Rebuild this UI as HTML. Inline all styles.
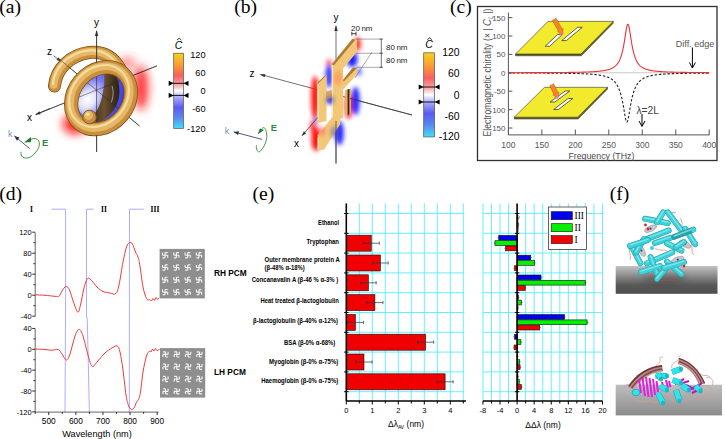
<!DOCTYPE html>
<html><head><meta charset="utf-8"><style>html,body{margin:0;padding:0;background:#fff;width:725px;height:439px;overflow:hidden}svg{display:block}</style></head>
<body><svg width="725" height="439" viewBox="0 0 725 439">
<rect width="725" height="439" fill="#fff"/>
<defs>
<filter id="blur3" x="-50%" y="-50%" width="200%" height="200%"><feGaussianBlur stdDeviation="3"/></filter>
<filter id="blur2" x="-50%" y="-50%" width="200%" height="200%"><feGaussianBlur stdDeviation="2"/></filter>
<filter id="blur5" x="-80%" y="-80%" width="260%" height="260%"><feGaussianBlur stdDeviation="5"/></filter>
<linearGradient id="cbar" x1="0" y1="0" x2="0" y2="1">
 <stop offset="0" stop-color="#f8d020"/>
 <stop offset="0.15" stop-color="#f8a030"/>
 <stop offset="0.3" stop-color="#f86060"/>
 <stop offset="0.42" stop-color="#f8a8a8"/>
 <stop offset="0.5" stop-color="#ffffff"/>
 <stop offset="0.58" stop-color="#b0b0f8"/>
 <stop offset="0.72" stop-color="#5a5af0"/>
 <stop offset="0.86" stop-color="#5a8af0"/>
 <stop offset="1" stop-color="#40e0f8"/>
</linearGradient>
<linearGradient id="slabA" x1="0" y1="0" x2="0" y2="1">
 <stop offset="0" stop-color="#c2c2c2"/><stop offset="0.68" stop-color="#595959"/><stop offset="1" stop-color="#4e4e4e"/>
</linearGradient>
<linearGradient id="slabB" x1="0" y1="0" x2="0" y2="1">
 <stop offset="0" stop-color="#bebebe"/><stop offset="1" stop-color="#8c8c8c"/>
</linearGradient>
<linearGradient id="gold" x1="0" y1="0" x2="1" y2="1">
 <stop offset="0" stop-color="#f6dc9a"/><stop offset="0.5" stop-color="#e0b060"/><stop offset="1" stop-color="#a87830"/>
</linearGradient>
<radialGradient id="hole" cx="0.3" cy="0.35" r="0.8">
 <stop offset="0" stop-color="#ffffff"/><stop offset="0.45" stop-color="#b8b8f8"/><stop offset="1" stop-color="#4848e8"/>
</radialGradient>
</defs>
<text x="-0.80" y="12.80" font-size="19.6" text-anchor="start" fill="#000" font-weight="normal" font-family="Liberation Serif, serif" >(a)</text>
<text x="234.30" y="12.80" font-size="19.6" text-anchor="start" fill="#000" font-weight="normal" font-family="Liberation Serif, serif" >(b)</text>
<text x="450.00" y="12.80" font-size="19.6" text-anchor="start" fill="#000" font-weight="normal" font-family="Liberation Serif, serif" >(c)</text>
<text x="-0.80" y="199.60" font-size="19.6" text-anchor="start" fill="#000" font-weight="normal" font-family="Liberation Serif, serif" >(d)</text>
<text x="252.50" y="199.60" font-size="19.6" text-anchor="start" fill="#000" font-weight="normal" font-family="Liberation Serif, serif" >(e)</text>
<text x="609.80" y="199.60" font-size="19.6" text-anchor="start" fill="#000" font-weight="normal" font-family="Liberation Serif, serif" >(f)</text>
<rect x="173.70" y="53.20" width="9.80" height="75.20" fill="url(#cbar)" stroke="#555" stroke-width="0.7" />
<line x1="172.70" y1="83.30" x2="184.50" y2="83.30" stroke="#000" stroke-width="0.9" />
<polygon points="168.70,80.70 168.70,85.90 173.70,83.30" fill="#000" stroke="none" stroke-width="1" />
<polygon points="188.50,80.70 188.50,85.90 183.50,83.30" fill="#000" stroke="none" stroke-width="1" />
<line x1="172.70" y1="95.40" x2="184.50" y2="95.40" stroke="#000" stroke-width="0.9" />
<polygon points="168.70,92.80 168.70,98.00 173.70,95.40" fill="#000" stroke="none" stroke-width="1" />
<polygon points="188.50,92.80 188.50,98.00 183.50,95.40" fill="#000" stroke="none" stroke-width="1" />
<text x="178.60" y="48.60" font-size="10.5" text-anchor="middle" fill="#000" font-weight="normal" font-family="Liberation Sans, sans-serif" font-style="italic">C</text>
<path d="M177.0,40.0 L179.2,38.2 L181.4,40.0" fill="none" stroke="#000" stroke-width="0.8" />
<text x="205.50" y="57.80" font-size="9.2" text-anchor="end" fill="#000" font-weight="normal" font-family="Liberation Sans, sans-serif" >120</text>
<text x="205.50" y="76.00" font-size="9.2" text-anchor="end" fill="#000" font-weight="normal" font-family="Liberation Sans, sans-serif" >60</text>
<text x="205.50" y="94.20" font-size="9.2" text-anchor="end" fill="#000" font-weight="normal" font-family="Liberation Sans, sans-serif" >0</text>
<text x="205.50" y="112.40" font-size="9.2" text-anchor="end" fill="#000" font-weight="normal" font-family="Liberation Sans, sans-serif" >-60</text>
<text x="205.50" y="131.80" font-size="9.2" text-anchor="end" fill="#000" font-weight="normal" font-family="Liberation Sans, sans-serif" >-120</text>
<rect x="423.70" y="52.80" width="10.90" height="84.10" fill="url(#cbar)" stroke="#555" stroke-width="0.7" />
<line x1="422.70" y1="87.00" x2="435.60" y2="87.00" stroke="#000" stroke-width="0.9" />
<polygon points="418.70,84.40 418.70,89.60 423.70,87.00" fill="#000" stroke="none" stroke-width="1" />
<polygon points="439.60,84.40 439.60,89.60 434.60,87.00" fill="#000" stroke="none" stroke-width="1" />
<line x1="422.70" y1="102.00" x2="435.60" y2="102.00" stroke="#000" stroke-width="0.9" />
<polygon points="418.70,99.40 418.70,104.60 423.70,102.00" fill="#000" stroke="none" stroke-width="1" />
<polygon points="439.60,99.40 439.60,104.60 434.60,102.00" fill="#000" stroke="none" stroke-width="1" />
<text x="429.00" y="48.20" font-size="10.5" text-anchor="middle" fill="#000" font-weight="normal" font-family="Liberation Sans, sans-serif" font-style="italic">C</text>
<path d="M427.4,39.599999999999994 L429.6,37.8 L431.8,39.599999999999994" fill="none" stroke="#000" stroke-width="0.8" />
<text x="459.50" y="56.20" font-size="10.4" text-anchor="end" fill="#000" font-weight="normal" font-family="Liberation Sans, sans-serif" >120</text>
<text x="459.50" y="77.20" font-size="10.4" text-anchor="end" fill="#000" font-weight="normal" font-family="Liberation Sans, sans-serif" >60</text>
<text x="459.50" y="98.60" font-size="10.4" text-anchor="end" fill="#000" font-weight="normal" font-family="Liberation Sans, sans-serif" >0</text>
<text x="459.50" y="119.60" font-size="10.4" text-anchor="end" fill="#000" font-weight="normal" font-family="Liberation Sans, sans-serif" >-60</text>
<text x="459.50" y="140.40" font-size="10.4" text-anchor="end" fill="#000" font-weight="normal" font-family="Liberation Sans, sans-serif" >-120</text>
<defs>
<radialGradient id="holeA" cx="0.32" cy="0.28" r="0.75">
 <stop offset="0" stop-color="#ffffff"/><stop offset="0.22" stop-color="#e4e4fc"/><stop offset="0.55" stop-color="#7878f2"/><stop offset="1" stop-color="#3c3ce6"/>
</radialGradient>
<linearGradient id="innerA" x1="0" y1="0" x2="1" y2="0">
 <stop offset="0" stop-color="#3a2a1a"/><stop offset="0.5" stop-color="#6a5030"/><stop offset="1" stop-color="#2a2010"/>
</linearGradient>
</defs>
<g filter="url(#blur5)">
<ellipse cx="75" cy="124" rx="12" ry="10" fill="#ff1010" opacity="0.95"/>
<ellipse cx="141" cy="88" rx="7" ry="22" fill="#ff1a1a" opacity="0.9"/>
<ellipse cx="127" cy="63" rx="8" ry="6" fill="#ff3030" opacity="0.6"/>
</g>
<line x1="58.00" y1="58.00" x2="139.50" y2="126.00" stroke="#333" stroke-width="0.7" />
<line x1="36.00" y1="114.40" x2="157.00" y2="65.80" stroke="#333" stroke-width="0.7" />
<path d="M54.5,86 C56,69 70,55 89,52.5 C104,51 114,58 120,69" fill="none" stroke="#7a5216" stroke-width="13.1" stroke-linecap="round" fill="none"/>
<path d="M54.5,86 C56,69 70,55 89,52.5 C104,51 114,58 120,69" fill="none" stroke="#c98f3e" stroke-width="11.5" stroke-linecap="round" fill="none"/>
<path d="M54.5,86 C56,69 70,55 89,52.5 C104,51 114,58 120,69" fill="none" stroke="#e6b866" stroke-width="7.13" stroke-linecap="round" fill="none" transform="translate(-0.8,-0.9)"/>
<path d="M54.5,86 C56,69 70,55 89,52.5 C104,51 114,58 120,69" fill="none" stroke="#f8e2a8" stroke-width="2.3000000000000003" stroke-linecap="round" fill="none" opacity="0.85" transform="translate(-1.6,-1.9)"/>
<clipPath id="holeClip"><ellipse cx="101.4" cy="97.7" rx="28" ry="21" transform="rotate(-50 101.4 97.7)"/></clipPath>
<g clip-path="url(#holeClip)">
<ellipse cx="101.4" cy="97.7" rx="28" ry="21" transform="rotate(-50 101.4 97.7)" fill="url(#holeA)"/>
<path d="M104,72 C118,74 126,86 124,100 C122,112 112,122 100,124 L126,124 L132,70 Z" fill="#4a4af0" stroke="none" stroke-width="1" />
<path d="M115,74 C120,82 121,94 117,104 C113,113 107,119 99,122 L89,120 C96,114 100,106 102,97 C104,88 105,80 104,72 Z" fill="url(#innerA)" stroke="none" stroke-width="1" />
<path d="M74,100 C78,112 86,118 90,122 L80,124 L72,108 Z" fill="#6060f0" stroke="none" stroke-width="1" opacity="0.6"/>
<path d="M112,86 C114,92 113,98 111,103" fill="none" stroke="#d0c8f0" stroke-width="0.9" opacity="0.7"/>
</g>
<line x1="96.60" y1="31.00" x2="96.60" y2="152.00" stroke="#333" stroke-width="0.7" />
<polygon points="96.60,30.00 94.90,36.00 98.30,36.00" fill="#333" stroke="none" stroke-width="1" />
<line x1="58.00" y1="58.00" x2="139.50" y2="126.00" stroke="#222" stroke-width="0.6" opacity="0.8"/>
<line x1="36.00" y1="114.40" x2="157.00" y2="65.80" stroke="#222" stroke-width="0.6" opacity="0.8"/>
<ellipse cx="101" cy="98.2" rx="33.3" ry="27.3" transform="rotate(-50 101 98.2)" fill="none" stroke="#7a5216" stroke-width="14.2"/>
<ellipse cx="101" cy="98.2" rx="33.3" ry="27.3" transform="rotate(-50 101 98.2)" fill="none" stroke="#c98f3e" stroke-width="12.6"/>
<g transform="translate(-1,-1)"><ellipse cx="101" cy="98.2" rx="33.3" ry="27.3" transform="rotate(-50 101 98.2)" fill="none" stroke="#e6b866" stroke-width="7.5"/></g>
<g transform="translate(-2,-2.2)"><ellipse cx="101" cy="98.2" rx="33.3" ry="27.3" transform="rotate(-50 101 98.2)" fill="none" stroke="#f8e2a8" stroke-width="2.2" opacity="0.85"/></g>
<line x1="96.60" y1="135.00" x2="96.60" y2="152.00" stroke="#333" stroke-width="0.7" />
<line x1="96.60" y1="31.00" x2="96.60" y2="62.50" stroke="#333" stroke-width="0.7" />
<circle cx="89.5" cy="117" r="6.8" fill="#c98f3e" stroke="#7a5216" stroke-width="0.9"/>
<circle cx="88.5" cy="115.5" r="4.4" fill="#e6b866"/>
<circle cx="87.6" cy="114.2" r="1.8" fill="#f8e2a8"/>
<text x="96.60" y="25.50" font-size="10" text-anchor="middle" fill="#000" font-weight="normal" font-family="Liberation Sans, sans-serif" >y</text>
<text x="49.50" y="55.00" font-size="10" text-anchor="middle" fill="#000" font-weight="normal" font-family="Liberation Sans, sans-serif" >z</text>
<line x1="53.70" y1="55.70" x2="60.50" y2="61.20" stroke="#333" stroke-width="0.7" />
<polygon points="60.50,61.20 56.38,59.93 58.40,57.44" fill="#333" stroke="none" stroke-width="1" />
<line x1="50.00" y1="108.50" x2="35.50" y2="114.60" stroke="#333" stroke-width="0.7" />
<polygon points="35.50,114.60 39.49,111.19 40.73,114.14" fill="#333" stroke="none" stroke-width="1" />
<text x="29.50" y="121.00" font-size="10" text-anchor="middle" fill="#000" font-weight="normal" font-family="Liberation Sans, sans-serif" >x</text>
<text x="10.20" y="136.80" font-size="9" text-anchor="middle" fill="#7a90c0" font-weight="normal" font-family="Liberation Sans, sans-serif" >k</text>
<line x1="29.70" y1="148.70" x2="14.40" y2="135.90" stroke="#2a3050" stroke-width="0.8" />
<polygon points="14.40,135.90 19.52,137.57 16.95,140.64" fill="#2a3050" stroke="none" stroke-width="1" />
<path d="M21,151.8 C20,160 30,160 35,153 C42,146 40,138 33.8,138.5 L27,140.5" fill="none" stroke="#2e8a3a" stroke-width="0.9" />
<text x="45.20" y="145.50" font-size="9.5" text-anchor="middle" fill="#2e8a3a" font-weight="bold" font-family="Liberation Sans, sans-serif" >E</text>
<polygon points="24.00,142.50 31.00,137.00 31.00,142.00" fill="#1a7a2a" stroke="none" stroke-width="1" />
<line x1="261.00" y1="74.60" x2="412.00" y2="115.00" stroke="#333" stroke-width="0.7" />
<polygon points="259.50,74.20 265.50,74.30 264.60,77.20" fill="#333" stroke="none" stroke-width="1" />
<line x1="336.00" y1="26.00" x2="336.00" y2="163.50" stroke="#333" stroke-width="0.7" />
<polygon points="336.00,25.00 334.30,31.00 337.70,31.00" fill="#333" stroke="none" stroke-width="1" />
<filter id="blurB" x="-100%" y="-100%" width="300%" height="300%"><feGaussianBlur stdDeviation="2.3"/></filter>
<g filter="url(#blurB)">
<ellipse cx="315" cy="98" rx="3.8" ry="22" fill="#ff1010" opacity="1"/>
<ellipse cx="316" cy="139" rx="4.5" ry="12" fill="#ff1010" opacity="1"/>
<ellipse cx="357.5" cy="44" rx="3.5" ry="7" fill="#ff2020" opacity="0.9"/>
<ellipse cx="348.5" cy="106" rx="3.5" ry="13" fill="#ff1010" opacity="0.95"/>
<ellipse cx="329" cy="63" rx="3" ry="4" fill="#ff3030" opacity="0.7"/>
<ellipse cx="313" cy="127" rx="3" ry="7" fill="#ff2020" opacity="0.85"/>
<ellipse cx="329" cy="76" rx="3.5" ry="12" fill="#2020ff" opacity="0.9"/>
<ellipse cx="352" cy="59" rx="5.5" ry="8" fill="#2020ff" opacity="1"/>
<ellipse cx="355.5" cy="101" rx="4.3" ry="14" fill="#2020ff" opacity="0.95"/>
<ellipse cx="331" cy="98" rx="5.5" ry="5.5" fill="#2020ff" opacity="0.8"/>
<ellipse cx="339.5" cy="133" rx="4.3" ry="12" fill="#2020ff" opacity="0.95"/>
<ellipse cx="359" cy="72" rx="3" ry="4" fill="#3030ff" opacity="0.6"/>
<ellipse cx="316" cy="120" rx="2" ry="4" fill="#4040ff" opacity="0.6"/>
</g>
<polygon points="345.30,90.00 351.00,88.50 351.00,114.00 345.30,115.50" fill="#e8b060" stroke="none" stroke-width="1" />
<polygon points="347.60,89.50 349.40,89.00 349.40,114.30 347.60,115.00" fill="#3a2810" stroke="none" stroke-width="1" />
<polygon points="317.30,82.80 326.50,74.50 326.50,121.00 317.30,123.00" fill="#f2c878" stroke="none" stroke-width="1" />
<polygon points="317.60,82.60 325.80,74.80 325.80,76.00 317.60,84.00" fill="#b07a36" stroke="none" stroke-width="1" />
<line x1="318.20" y1="84.00" x2="318.20" y2="119.50" stroke="#fff2c8" stroke-width="0.9" />
<polygon points="331.80,64.20 352.30,39.10 357.00,39.60 357.00,52.00 343.00,68.50 343.00,118.00 336.00,120.00 331.80,121.00" fill="#f2c878" stroke="none" stroke-width="1" />
<polygon points="331.80,64.20 352.30,39.10 355.50,39.50 333.80,65.40" fill="#b07a36" stroke="none" stroke-width="1" />
<line x1="332.40" y1="65.00" x2="332.40" y2="120.00" stroke="#fff2c8" stroke-width="0.9" />
<polygon points="343.00,80.00 353.00,67.50 357.00,68.00 357.00,74.50 343.00,89.50" fill="#f2c878" stroke="none" stroke-width="1" />
<polygon points="343.00,80.00 353.00,67.50 357.00,68.00 343.80,81.50" fill="#b07a36" stroke="none" stroke-width="1" />
<polygon points="326.00,92.00 331.80,90.00 331.80,98.00 326.00,100.00" fill="#d8a860" stroke="none" stroke-width="1" />
<polygon points="317.60,135.50 334.00,115.00 340.00,113.00 340.00,124.50 324.00,149.80 317.60,149.80" fill="#f2c878" stroke="none" stroke-width="1" />
<line x1="318.20" y1="137.50" x2="318.20" y2="149.00" stroke="#fff2c8" stroke-width="0.9" />
<g filter="url(#blur2)">
<ellipse cx="338" cy="78" rx="3.5" ry="7" fill="#ff7040" opacity="0.5"/>
<ellipse cx="330" cy="100" rx="4" ry="4" fill="#4040c0" opacity="0.6"/>
<ellipse cx="334" cy="132" rx="3" ry="6" fill="#4a4ac0" opacity="0.55"/>
<ellipse cx="322" cy="131" rx="3" ry="5" fill="#ff4040" opacity="0.5"/>
</g>
<line x1="336.00" y1="121.00" x2="336.00" y2="163.50" stroke="#333" stroke-width="0.7" />
<line x1="350.00" y1="98.40" x2="412.00" y2="115.00" stroke="#333" stroke-width="0.7" />
<text x="336.00" y="21.00" font-size="10" text-anchor="middle" fill="#000" font-weight="normal" font-family="Liberation Sans, sans-serif" >y</text>
<text x="252.00" y="76.50" font-size="10" text-anchor="middle" fill="#000" font-weight="normal" font-family="Liberation Sans, sans-serif" >z</text>
<line x1="317.60" y1="117.60" x2="301.80" y2="136.00" stroke="#333" stroke-width="0.7" />
<polygon points="301.80,136.00 303.84,131.16 306.27,133.25" fill="#333" stroke="none" stroke-width="1" />
<text x="296.50" y="147.00" font-size="10" text-anchor="middle" fill="#000" font-weight="normal" font-family="Liberation Sans, sans-serif" >x</text>
<text x="351.00" y="30.50" font-size="8" text-anchor="start" fill="#222" font-weight="normal" font-family="Liberation Sans, sans-serif" >20<tspan dx="1.5">nm</tspan></text>
<line x1="351.80" y1="33.70" x2="356.00" y2="33.70" stroke="#000" stroke-width="0.7" />
<line x1="351.80" y1="31.80" x2="351.80" y2="35.60" stroke="#000" stroke-width="0.7" />
<line x1="356.00" y1="31.80" x2="356.00" y2="35.60" stroke="#000" stroke-width="0.7" />
<line x1="356.00" y1="39.10" x2="381.50" y2="39.10" stroke="#555" stroke-width="0.5" />
<line x1="356.00" y1="53.30" x2="381.50" y2="53.30" stroke="#555" stroke-width="0.5" />
<line x1="356.00" y1="67.30" x2="381.50" y2="67.30" stroke="#555" stroke-width="0.5" />
<line x1="381.30" y1="39.10" x2="381.30" y2="67.30" stroke="#333" stroke-width="0.7" />
<line x1="379.50" y1="39.10" x2="383.00" y2="39.10" stroke="#333" stroke-width="0.7" />
<line x1="379.50" y1="53.30" x2="383.00" y2="53.30" stroke="#333" stroke-width="0.7" />
<line x1="379.50" y1="67.30" x2="383.00" y2="67.30" stroke="#333" stroke-width="0.7" />
<line x1="372.00" y1="52.00" x2="355.00" y2="78.00" stroke="#555" stroke-width="0.5" />
<text x="386.00" y="50.30" font-size="8" text-anchor="start" fill="#222" font-weight="normal" font-family="Liberation Sans, sans-serif" >80<tspan dx="1.5">nm</tspan></text>
<text x="386.00" y="63.20" font-size="8" text-anchor="start" fill="#222" font-weight="normal" font-family="Liberation Sans, sans-serif" >80<tspan dx="1.5">nm</tspan></text>
<text x="227.00" y="134.00" font-size="9" text-anchor="middle" fill="#7a90c0" font-weight="normal" font-family="Liberation Sans, sans-serif" >k</text>
<line x1="262.10" y1="139.40" x2="233.70" y2="131.90" stroke="#2a3050" stroke-width="0.8" />
<polygon points="233.70,131.90 239.04,131.24 238.02,135.11" fill="#2a3050" stroke="none" stroke-width="1" />
<path d="M256.4,145.3 C256,150 258,153 260,151.5 C264,148 267.5,140 266.7,134 C266,128 264,126.5 262,128.5" fill="none" stroke="#2e8a3a" stroke-width="0.9" />
<text x="274.00" y="131.20" font-size="9.5" text-anchor="middle" fill="#2e8a3a" font-weight="bold" font-family="Liberation Sans, sans-serif" >E</text>
<polygon points="257.60,134.50 260.00,128.50 264.00,130.00" fill="#1a7a2a" stroke="none" stroke-width="1" />
<rect x="477.50" y="6.50" width="239.50" height="154.00" fill="none" stroke="#303030" stroke-width="1.3" />
<line x1="508.40" y1="72.80" x2="709.22" y2="72.80" stroke="#c8c8c8" stroke-width="1" />
<line x1="508.40" y1="12.50" x2="508.40" y2="134.90" stroke="#555" stroke-width="1" />
<line x1="508.40" y1="134.90" x2="709.50" y2="134.90" stroke="#555" stroke-width="1" />
<line x1="508.40" y1="17.60" x2="512.40" y2="17.60" stroke="#555" stroke-width="1" />
<text x="505.50" y="20.60" font-size="8" text-anchor="end" fill="#555" font-weight="normal" font-family="Liberation Sans, sans-serif" >150</text>
<line x1="508.40" y1="36.00" x2="512.40" y2="36.00" stroke="#555" stroke-width="1" />
<text x="505.50" y="39.00" font-size="8" text-anchor="end" fill="#555" font-weight="normal" font-family="Liberation Sans, sans-serif" >100</text>
<line x1="508.40" y1="54.40" x2="512.40" y2="54.40" stroke="#555" stroke-width="1" />
<text x="505.50" y="57.40" font-size="8" text-anchor="end" fill="#555" font-weight="normal" font-family="Liberation Sans, sans-serif" >50</text>
<line x1="508.40" y1="72.80" x2="512.40" y2="72.80" stroke="#555" stroke-width="1" />
<text x="505.50" y="75.80" font-size="8" text-anchor="end" fill="#555" font-weight="normal" font-family="Liberation Sans, sans-serif" >0</text>
<line x1="508.40" y1="91.20" x2="512.40" y2="91.20" stroke="#555" stroke-width="1" />
<text x="505.50" y="94.20" font-size="8" text-anchor="end" fill="#555" font-weight="normal" font-family="Liberation Sans, sans-serif" >-50</text>
<line x1="508.40" y1="109.60" x2="512.40" y2="109.60" stroke="#555" stroke-width="1" />
<text x="505.50" y="112.60" font-size="8" text-anchor="end" fill="#555" font-weight="normal" font-family="Liberation Sans, sans-serif" >-100</text>
<line x1="508.40" y1="128.00" x2="512.40" y2="128.00" stroke="#555" stroke-width="1" />
<text x="505.50" y="131.00" font-size="8" text-anchor="end" fill="#555" font-weight="normal" font-family="Liberation Sans, sans-serif" >-150</text>
<line x1="508.40" y1="134.90" x2="508.40" y2="129.50" stroke="#555" stroke-width="1" />
<text x="508.40" y="147.50" font-size="8.5" text-anchor="middle" fill="#555" font-weight="normal" font-family="Liberation Sans, sans-serif" >100</text>
<line x1="541.87" y1="134.90" x2="541.87" y2="129.50" stroke="#555" stroke-width="1" />
<text x="541.87" y="147.50" font-size="8.5" text-anchor="middle" fill="#555" font-weight="normal" font-family="Liberation Sans, sans-serif" >150</text>
<line x1="575.34" y1="134.90" x2="575.34" y2="129.50" stroke="#555" stroke-width="1" />
<text x="575.34" y="147.50" font-size="8.5" text-anchor="middle" fill="#555" font-weight="normal" font-family="Liberation Sans, sans-serif" >200</text>
<line x1="608.81" y1="134.90" x2="608.81" y2="129.50" stroke="#555" stroke-width="1" />
<text x="608.81" y="147.50" font-size="8.5" text-anchor="middle" fill="#555" font-weight="normal" font-family="Liberation Sans, sans-serif" >250</text>
<line x1="642.28" y1="134.90" x2="642.28" y2="129.50" stroke="#555" stroke-width="1" />
<text x="642.28" y="147.50" font-size="8.5" text-anchor="middle" fill="#555" font-weight="normal" font-family="Liberation Sans, sans-serif" >300</text>
<line x1="675.75" y1="134.90" x2="675.75" y2="129.50" stroke="#555" stroke-width="1" />
<text x="675.75" y="147.50" font-size="8.5" text-anchor="middle" fill="#555" font-weight="normal" font-family="Liberation Sans, sans-serif" >350</text>
<line x1="709.22" y1="134.90" x2="709.22" y2="129.50" stroke="#555" stroke-width="1" />
<text x="709.22" y="147.50" font-size="8.5" text-anchor="middle" fill="#555" font-weight="normal" font-family="Liberation Sans, sans-serif" >400</text>
<text x="601.40" y="159.00" font-size="9.3" text-anchor="middle" fill="#4a4a4a" font-weight="normal" font-family="Liberation Sans, sans-serif" textLength="66" lengthAdjust="spacingAndGlyphs">Frequency (THz)</text>
<text transform="translate(490.6,72.5) rotate(-90)" font-size="10.2" text-anchor="middle" fill="#555" font-family="Liberation Sans, sans-serif" textLength="128" lengthAdjust="spacingAndGlyphs">Electromagnetic chirality (× | <tspan font-style="italic" font-size="11.5">C</tspan><tspan font-size="6.5" dy="2" font-style="italic">L</tspan><tspan dy="-2"> |)</tspan></text>
<polygon points="515.60,54.00 580.90,54.00 613.20,21.40 613.20,23.20 581.40,55.80 515.60,55.80" fill="#6e6a10" stroke="#222" stroke-width="0.5" />
<polygon points="548.00,21.40 613.20,21.40 580.90,54.00 515.60,54.00" fill="#f2ea2c" stroke="#333" stroke-width="0.6" />
<polygon points="545.20,46.20 549.80,46.20 562.30,34.50 557.70,34.50" fill="#fff" stroke="#222" stroke-width="0.7" />
<polygon points="561.70,40.60 566.30,40.60 582.30,27.30 577.70,27.30" fill="#fff" stroke="#222" stroke-width="0.7" />
<polygon points="552.28,20.38 558.37,31.16 557.33,31.75 562.50,34.00 563.25,28.41 562.20,29.00 556.12,18.22" fill="#f08820" stroke="#b04010" stroke-width="0.4" />
<circle cx="561.30" cy="33.20" r="2.1" fill="#f07878" opacity="0.9"/>
<polygon points="514.30,117.20 577.70,117.20 607.50,87.30 607.50,89.10 578.20,119.00 514.30,119.00" fill="#6e6a10" stroke="#222" stroke-width="0.5" />
<polygon points="544.50,87.30 607.50,87.30 577.70,117.20 514.30,117.20" fill="#f2ea2c" stroke="#333" stroke-width="0.6" />
<polygon points="550.20,102.00 554.80,102.00 569.80,91.00 565.20,91.00" fill="#fff" stroke="#222" stroke-width="0.7" />
<polygon points="553.70,109.50 558.30,109.50 572.80,98.50 568.20,98.50" fill="#fff" stroke="#222" stroke-width="0.7" />
<polygon points="549.71,85.65 553.88,94.38 552.79,94.90 557.80,97.50 558.93,91.98 557.85,92.49 553.69,83.75" fill="#f08820" stroke="#b04010" stroke-width="0.4" />
<circle cx="556.60" cy="96.70" r="2.1" fill="#f07878" opacity="0.9"/>
<polyline points="508.40,72.93 508.73,72.93 509.07,72.93 509.40,72.93 509.74,72.94 510.07,72.94 510.41,72.94 510.74,72.94 511.08,72.94 511.41,72.94 511.75,72.94 512.08,72.94 512.42,72.94 512.75,72.94 513.09,72.94 513.42,72.94 513.76,72.94 514.09,72.95 514.42,72.95 514.76,72.95 515.09,72.95 515.43,72.95 515.76,72.95 516.10,72.95 516.43,72.95 516.77,72.95 517.10,72.95 517.44,72.95 517.77,72.96 518.11,72.96 518.44,72.96 518.78,72.96 519.11,72.96 519.45,72.96 519.78,72.96 520.11,72.96 520.45,72.96 520.78,72.96 521.12,72.97 521.45,72.97 521.79,72.97 522.12,72.97 522.46,72.97 522.79,72.97 523.13,72.97 523.46,72.97 523.80,72.97 524.13,72.98 524.47,72.98 524.80,72.98 525.13,72.98 525.47,72.98 525.80,72.98 526.14,72.98 526.47,72.98 526.81,72.98 527.14,72.99 527.48,72.99 527.81,72.99 528.15,72.99 528.48,72.99 528.82,72.99 529.15,72.99 529.49,73.00 529.82,73.00 530.16,73.00 530.49,73.00 530.82,73.00 531.16,73.00 531.49,73.00 531.83,73.00 532.16,73.01 532.50,73.01 532.83,73.01 533.17,73.01 533.50,73.01 533.84,73.01 534.17,73.02 534.51,73.02 534.84,73.02 535.18,73.02 535.51,73.02 535.85,73.02 536.18,73.02 536.51,73.03 536.85,73.03 537.18,73.03 537.52,73.03 537.85,73.03 538.19,73.04 538.52,73.04 538.86,73.04 539.19,73.04 539.53,73.04 539.86,73.04 540.20,73.05 540.53,73.05 540.87,73.05 541.20,73.05 541.54,73.05 541.87,73.06 542.20,73.06 542.54,73.06 542.87,73.06 543.21,73.06 543.54,73.07 543.88,73.07 544.21,73.07 544.55,73.07 544.88,73.07 545.22,73.08 545.55,73.08 545.89,73.08 546.22,73.08 546.56,73.09 546.89,73.09 547.23,73.09 547.56,73.09 547.89,73.10 548.23,73.10 548.56,73.10 548.90,73.10 549.23,73.11 549.57,73.11 549.90,73.11 550.24,73.11 550.57,73.12 550.91,73.12 551.24,73.12 551.58,73.13 551.91,73.13 552.25,73.13 552.58,73.13 552.92,73.14 553.25,73.14 553.58,73.14 553.92,73.15 554.25,73.15 554.59,73.15 554.92,73.16 555.26,73.16 555.59,73.16 555.93,73.17 556.26,73.17 556.60,73.17 556.93,73.18 557.27,73.18 557.60,73.18 557.94,73.19 558.27,73.19 558.61,73.19 558.94,73.20 559.27,73.20 559.61,73.21 559.94,73.21 560.28,73.21 560.61,73.22 560.95,73.22 561.28,73.23 561.62,73.23 561.95,73.24 562.29,73.24 562.62,73.24 562.96,73.25 563.29,73.25 563.63,73.26 563.96,73.26 564.29,73.27 564.63,73.27 564.96,73.28 565.30,73.28 565.63,73.29 565.97,73.29 566.30,73.30 566.64,73.30 566.97,73.31 567.31,73.32 567.64,73.32 567.98,73.33 568.31,73.33 568.65,73.34 568.98,73.35 569.32,73.35 569.65,73.36 569.98,73.36 570.32,73.37 570.65,73.38 570.99,73.38 571.32,73.39 571.66,73.40 571.99,73.41 572.33,73.41 572.66,73.42 573.00,73.43 573.33,73.44 573.67,73.44 574.00,73.45 574.34,73.46 574.67,73.47 575.01,73.48 575.34,73.49 575.67,73.49 576.01,73.50 576.34,73.51 576.68,73.52 577.01,73.53 577.35,73.54 577.68,73.55 578.02,73.56 578.35,73.57 578.69,73.58 579.02,73.59 579.36,73.60 579.69,73.61 580.03,73.63 580.36,73.64 580.70,73.65 581.03,73.66 581.36,73.67 581.70,73.69 582.03,73.70 582.37,73.71 582.70,73.73 583.04,73.74 583.37,73.75 583.71,73.77 584.04,73.78 584.38,73.80 584.71,73.81 585.05,73.83 585.38,73.84 585.72,73.86 586.05,73.88 586.39,73.89 586.72,73.91 587.05,73.93 587.39,73.95 587.72,73.97 588.06,73.99 588.39,74.01 588.73,74.03 589.06,74.05 589.40,74.07 589.73,74.09 590.07,74.11 590.40,74.14 590.74,74.16 591.07,74.19 591.41,74.21 591.74,74.24 592.07,74.26 592.41,74.29 592.74,74.32 593.08,74.35 593.41,74.38 593.75,74.41 594.08,74.44 594.42,74.47 594.75,74.50 595.09,74.54 595.42,74.57 595.76,74.61 596.09,74.64 596.43,74.68 596.76,74.72 597.10,74.76 597.43,74.80 597.76,74.85 598.10,74.89 598.43,74.94 598.77,74.99 599.10,75.04 599.44,75.09 599.77,75.14 600.11,75.19 600.44,75.25 600.78,75.31 601.11,75.37 601.45,75.43 601.78,75.49 602.12,75.56 602.45,75.63 602.79,75.70 603.12,75.78 603.45,75.85 603.79,75.93 604.12,76.02 604.46,76.10 604.79,76.19 605.13,76.29 605.46,76.38 605.80,76.49 606.13,76.59 606.47,76.70 606.80,76.81 607.14,76.93 607.47,77.06 607.81,77.19 608.14,77.32 608.48,77.47 608.81,77.61 609.14,77.77 609.48,77.93 609.81,78.10 610.15,78.28 610.48,78.47 610.82,78.66 611.15,78.87 611.49,79.08 611.82,79.31 612.16,79.55 612.49,79.80 612.83,80.07 613.16,80.34 613.50,80.64 613.83,80.95 614.17,81.28 614.50,81.62 614.83,81.99 615.17,82.38 615.50,82.79 615.84,83.22 616.17,83.68 616.51,84.17 616.84,84.70 617.18,85.25 617.51,85.84 617.85,86.47 618.18,87.14 618.52,87.86 618.85,88.62 619.19,89.44 619.52,90.32 619.86,91.25 620.19,92.26 620.52,93.34 620.86,94.49 621.19,95.73 621.53,97.06 621.86,98.49 622.20,100.01 622.53,101.64 622.87,103.36 623.20,105.18 623.54,107.09 623.87,109.07 624.21,111.10 624.54,113.13 624.88,115.11 625.21,116.98 625.54,118.68 625.88,120.11 626.21,121.20 626.55,121.88 626.88,122.11 627.22,121.88 627.55,121.20 627.89,120.11 628.22,118.68 628.56,116.98 628.89,115.11 629.23,113.13 629.56,111.10 629.90,109.07 630.23,107.09 630.57,105.18 630.90,103.36 631.23,101.64 631.57,100.01 631.90,98.49 632.24,97.06 632.57,95.73 632.91,94.49 633.24,93.34 633.58,92.26 633.91,91.25 634.25,90.32 634.58,89.44 634.92,88.62 635.25,87.86 635.59,87.14 635.92,86.47 636.26,85.84 636.59,85.25 636.92,84.70 637.26,84.17 637.59,83.68 637.93,83.22 638.26,82.79 638.60,82.38 638.93,81.99 639.27,81.62 639.60,81.28 639.94,80.95 640.27,80.64 640.61,80.34 640.94,80.07 641.28,79.80 641.61,79.55 641.95,79.31 642.28,79.08 642.61,78.87 642.95,78.66 643.28,78.47 643.62,78.28 643.95,78.10 644.29,77.93 644.62,77.77 644.96,77.61 645.29,77.47 645.63,77.32 645.96,77.19 646.30,77.06 646.63,76.93 646.97,76.81 647.30,76.70 647.64,76.59 647.97,76.49 648.30,76.38 648.64,76.29 648.97,76.19 649.31,76.10 649.64,76.02 649.98,75.93 650.31,75.85 650.65,75.78 650.98,75.70 651.32,75.63 651.65,75.56 651.99,75.49 652.32,75.43 652.66,75.37 652.99,75.31 653.33,75.25 653.66,75.19 653.99,75.14 654.33,75.09 654.66,75.04 655.00,74.99 655.33,74.94 655.67,74.89 656.00,74.85 656.34,74.80 656.67,74.76 657.01,74.72 657.34,74.68 657.68,74.64 658.01,74.61 658.35,74.57 658.68,74.54 659.01,74.50 659.35,74.47 659.68,74.44 660.02,74.41 660.35,74.38 660.69,74.35 661.02,74.32 661.36,74.29 661.69,74.26 662.03,74.24 662.36,74.21 662.70,74.19 663.03,74.16 663.37,74.14 663.70,74.11 664.04,74.09 664.37,74.07 664.70,74.05 665.04,74.03 665.37,74.01 665.71,73.99 666.04,73.97 666.38,73.95 666.71,73.93 667.05,73.91 667.38,73.89 667.72,73.88 668.05,73.86 668.39,73.84 668.72,73.83 669.06,73.81 669.39,73.80 669.73,73.78 670.06,73.77 670.39,73.75 670.73,73.74 671.06,73.73 671.40,73.71 671.73,73.70 672.07,73.69 672.40,73.67 672.74,73.66 673.07,73.65 673.41,73.64 673.74,73.63 674.08,73.61 674.41,73.60 674.75,73.59 675.08,73.58 675.42,73.57 675.75,73.56 676.08,73.55 676.42,73.54 676.75,73.53 677.09,73.52 677.42,73.51 677.76,73.50 678.09,73.49 678.43,73.49 678.76,73.48 679.10,73.47 679.43,73.46 679.77,73.45 680.10,73.44 680.44,73.44 680.77,73.43 681.11,73.42 681.44,73.41 681.77,73.41 682.11,73.40 682.44,73.39 682.78,73.38 683.11,73.38 683.45,73.37 683.78,73.36 684.12,73.36 684.45,73.35 684.79,73.35 685.12,73.34 685.46,73.33 685.79,73.33 686.13,73.32 686.46,73.32 686.80,73.31 687.13,73.30 687.46,73.30 687.80,73.29 688.13,73.29 688.47,73.28 688.80,73.28 689.14,73.27 689.47,73.27 689.81,73.26 690.14,73.26 690.48,73.25 690.81,73.25 691.15,73.24 691.48,73.24 691.82,73.24 692.15,73.23 692.49,73.23 692.82,73.22 693.15,73.22 693.49,73.21 693.82,73.21 694.16,73.21 694.49,73.20 694.83,73.20 695.16,73.19 695.50,73.19 695.83,73.19 696.17,73.18 696.50,73.18 696.84,73.18 697.17,73.17 697.51,73.17 697.84,73.17 698.17,73.16 698.51,73.16 698.84,73.16 699.18,73.15 699.51,73.15 699.85,73.15 700.18,73.14 700.52,73.14 700.85,73.14 701.19,73.13 701.52,73.13 701.86,73.13 702.19,73.13 702.53,73.12 702.86,73.12 703.20,73.12 703.53,73.11 703.86,73.11 704.20,73.11 704.53,73.11 704.87,73.10 705.20,73.10 705.54,73.10 705.87,73.10 706.21,73.09 706.54,73.09 706.88,73.09 707.21,73.09 707.55,73.08 707.88,73.08 708.22,73.08 708.55,73.08 708.89,73.07 709.22,73.07" fill="none" stroke="#222" stroke-width="1.1" stroke-dasharray="2.5,1.8"/>
<polyline points="508.40,72.71 508.73,72.71 509.07,72.70 509.40,72.70 509.74,72.70 510.07,72.70 510.41,72.70 510.74,72.70 511.08,72.70 511.41,72.70 511.75,72.70 512.08,72.70 512.42,72.70 512.75,72.70 513.09,72.70 513.42,72.70 513.76,72.70 514.09,72.70 514.42,72.70 514.76,72.70 515.09,72.69 515.43,72.69 515.76,72.69 516.10,72.69 516.43,72.69 516.77,72.69 517.10,72.69 517.44,72.69 517.77,72.69 518.11,72.69 518.44,72.69 518.78,72.69 519.11,72.69 519.45,72.69 519.78,72.69 520.11,72.68 520.45,72.68 520.78,72.68 521.12,72.68 521.45,72.68 521.79,72.68 522.12,72.68 522.46,72.68 522.79,72.68 523.13,72.68 523.46,72.68 523.80,72.68 524.13,72.68 524.47,72.67 524.80,72.67 525.13,72.67 525.47,72.67 525.80,72.67 526.14,72.67 526.47,72.67 526.81,72.67 527.14,72.67 527.48,72.67 527.81,72.67 528.15,72.67 528.48,72.66 528.82,72.66 529.15,72.66 529.49,72.66 529.82,72.66 530.16,72.66 530.49,72.66 530.82,72.66 531.16,72.66 531.49,72.66 531.83,72.65 532.16,72.65 532.50,72.65 532.83,72.65 533.17,72.65 533.50,72.65 533.84,72.65 534.17,72.65 534.51,72.65 534.84,72.65 535.18,72.64 535.51,72.64 535.85,72.64 536.18,72.64 536.51,72.64 536.85,72.64 537.18,72.64 537.52,72.64 537.85,72.63 538.19,72.63 538.52,72.63 538.86,72.63 539.19,72.63 539.53,72.63 539.86,72.63 540.20,72.63 540.53,72.62 540.87,72.62 541.20,72.62 541.54,72.62 541.87,72.62 542.20,72.62 542.54,72.62 542.87,72.61 543.21,72.61 543.54,72.61 543.88,72.61 544.21,72.61 544.55,72.61 544.88,72.61 545.22,72.60 545.55,72.60 545.89,72.60 546.22,72.60 546.56,72.60 546.89,72.60 547.23,72.59 547.56,72.59 547.89,72.59 548.23,72.59 548.56,72.59 548.90,72.59 549.23,72.58 549.57,72.58 549.90,72.58 550.24,72.58 550.57,72.58 550.91,72.57 551.24,72.57 551.58,72.57 551.91,72.57 552.25,72.57 552.58,72.56 552.92,72.56 553.25,72.56 553.58,72.56 553.92,72.56 554.25,72.55 554.59,72.55 554.92,72.55 555.26,72.55 555.59,72.54 555.93,72.54 556.26,72.54 556.60,72.54 556.93,72.53 557.27,72.53 557.60,72.53 557.94,72.53 558.27,72.52 558.61,72.52 558.94,72.52 559.27,72.52 559.61,72.51 559.94,72.51 560.28,72.51 560.61,72.51 560.95,72.50 561.28,72.50 561.62,72.50 561.95,72.49 562.29,72.49 562.62,72.49 562.96,72.48 563.29,72.48 563.63,72.48 563.96,72.47 564.29,72.47 564.63,72.47 564.96,72.46 565.30,72.46 565.63,72.46 565.97,72.45 566.30,72.45 566.64,72.45 566.97,72.44 567.31,72.44 567.64,72.43 567.98,72.43 568.31,72.43 568.65,72.42 568.98,72.42 569.32,72.41 569.65,72.41 569.98,72.40 570.32,72.40 570.65,72.39 570.99,72.39 571.32,72.39 571.66,72.38 571.99,72.38 572.33,72.37 572.66,72.36 573.00,72.36 573.33,72.35 573.67,72.35 574.00,72.34 574.34,72.34 574.67,72.33 575.01,72.33 575.34,72.32 575.67,72.31 576.01,72.31 576.34,72.30 576.68,72.30 577.01,72.29 577.35,72.28 577.68,72.28 578.02,72.27 578.35,72.26 578.69,72.25 579.02,72.25 579.36,72.24 579.69,72.23 580.03,72.22 580.36,72.22 580.70,72.21 581.03,72.20 581.36,72.19 581.70,72.18 582.03,72.17 582.37,72.16 582.70,72.15 583.04,72.15 583.37,72.14 583.71,72.13 584.04,72.12 584.38,72.11 584.71,72.09 585.05,72.08 585.38,72.07 585.72,72.06 586.05,72.05 586.39,72.04 586.72,72.03 587.05,72.01 587.39,72.00 587.72,71.99 588.06,71.97 588.39,71.96 588.73,71.95 589.06,71.93 589.40,71.92 589.73,71.90 590.07,71.89 590.40,71.87 590.74,71.86 591.07,71.84 591.41,71.82 591.74,71.80 592.07,71.79 592.41,71.77 592.74,71.75 593.08,71.73 593.41,71.71 593.75,71.69 594.08,71.67 594.42,71.64 594.75,71.62 595.09,71.60 595.42,71.57 595.76,71.55 596.09,71.52 596.43,71.50 596.76,71.47 597.10,71.44 597.43,71.41 597.76,71.39 598.10,71.35 598.43,71.32 598.77,71.29 599.10,71.26 599.44,71.22 599.77,71.19 600.11,71.15 600.44,71.11 600.78,71.07 601.11,71.03 601.45,70.99 601.78,70.94 602.12,70.90 602.45,70.85 602.79,70.80 603.12,70.75 603.45,70.70 603.79,70.64 604.12,70.59 604.46,70.53 604.79,70.47 605.13,70.40 605.46,70.34 605.80,70.27 606.13,70.19 606.47,70.12 606.80,70.04 607.14,69.96 607.47,69.87 607.81,69.78 608.14,69.69 608.48,69.59 608.81,69.49 609.14,69.38 609.48,69.27 609.81,69.15 610.15,69.03 610.48,68.90 610.82,68.77 611.15,68.62 611.49,68.47 611.82,68.31 612.16,68.15 612.49,67.97 612.83,67.79 613.16,67.59 613.50,67.38 613.83,67.16 614.17,66.93 614.50,66.69 614.83,66.42 615.17,66.15 615.50,65.85 615.84,65.54 616.17,65.20 616.51,64.85 616.84,64.46 617.18,64.06 617.51,63.62 617.85,63.15 618.18,62.65 618.52,62.11 618.85,61.53 619.19,60.91 619.52,60.24 619.86,59.51 620.19,58.73 620.52,57.88 620.86,56.96 621.19,55.97 621.53,54.89 621.86,53.73 622.20,52.46 622.53,51.09 622.87,49.61 623.20,48.02 623.54,46.30 623.87,44.47 624.21,42.52 624.54,40.47 624.88,38.34 625.21,36.15 625.54,33.95 625.88,31.80 626.21,29.77 626.55,27.94 626.88,26.39 627.22,25.21 627.55,24.48 627.89,24.22 628.22,24.48 628.56,25.21 628.89,26.39 629.23,27.94 629.56,29.77 629.90,31.80 630.23,33.95 630.57,36.15 630.90,38.34 631.23,40.47 631.57,42.52 631.90,44.47 632.24,46.30 632.57,48.02 632.91,49.61 633.24,51.09 633.58,52.46 633.91,53.73 634.25,54.89 634.58,55.97 634.92,56.96 635.25,57.88 635.59,58.73 635.92,59.51 636.26,60.24 636.59,60.91 636.92,61.53 637.26,62.11 637.59,62.65 637.93,63.15 638.26,63.62 638.60,64.06 638.93,64.46 639.27,64.85 639.60,65.20 639.94,65.54 640.27,65.85 640.61,66.15 640.94,66.42 641.28,66.69 641.61,66.93 641.95,67.16 642.28,67.38 642.61,67.59 642.95,67.79 643.28,67.97 643.62,68.15 643.95,68.31 644.29,68.47 644.62,68.62 644.96,68.77 645.29,68.90 645.63,69.03 645.96,69.15 646.30,69.27 646.63,69.38 646.97,69.49 647.30,69.59 647.64,69.69 647.97,69.78 648.30,69.87 648.64,69.96 648.97,70.04 649.31,70.12 649.64,70.19 649.98,70.27 650.31,70.34 650.65,70.40 650.98,70.47 651.32,70.53 651.65,70.59 651.99,70.64 652.32,70.70 652.66,70.75 652.99,70.80 653.33,70.85 653.66,70.90 653.99,70.94 654.33,70.99 654.66,71.03 655.00,71.07 655.33,71.11 655.67,71.15 656.00,71.19 656.34,71.22 656.67,71.26 657.01,71.29 657.34,71.32 657.68,71.35 658.01,71.39 658.35,71.41 658.68,71.44 659.01,71.47 659.35,71.50 659.68,71.52 660.02,71.55 660.35,71.57 660.69,71.60 661.02,71.62 661.36,71.64 661.69,71.67 662.03,71.69 662.36,71.71 662.70,71.73 663.03,71.75 663.37,71.77 663.70,71.79 664.04,71.80 664.37,71.82 664.70,71.84 665.04,71.86 665.37,71.87 665.71,71.89 666.04,71.90 666.38,71.92 666.71,71.93 667.05,71.95 667.38,71.96 667.72,71.97 668.05,71.99 668.39,72.00 668.72,72.01 669.06,72.03 669.39,72.04 669.73,72.05 670.06,72.06 670.39,72.07 670.73,72.08 671.06,72.09 671.40,72.11 671.73,72.12 672.07,72.13 672.40,72.14 672.74,72.15 673.07,72.15 673.41,72.16 673.74,72.17 674.08,72.18 674.41,72.19 674.75,72.20 675.08,72.21 675.42,72.22 675.75,72.22 676.08,72.23 676.42,72.24 676.75,72.25 677.09,72.25 677.42,72.26 677.76,72.27 678.09,72.28 678.43,72.28 678.76,72.29 679.10,72.30 679.43,72.30 679.77,72.31 680.10,72.31 680.44,72.32 680.77,72.33 681.11,72.33 681.44,72.34 681.77,72.34 682.11,72.35 682.44,72.35 682.78,72.36 683.11,72.36 683.45,72.37 683.78,72.38 684.12,72.38 684.45,72.39 684.79,72.39 685.12,72.39 685.46,72.40 685.79,72.40 686.13,72.41 686.46,72.41 686.80,72.42 687.13,72.42 687.46,72.43 687.80,72.43 688.13,72.43 688.47,72.44 688.80,72.44 689.14,72.45 689.47,72.45 689.81,72.45 690.14,72.46 690.48,72.46 690.81,72.46 691.15,72.47 691.48,72.47 691.82,72.47 692.15,72.48 692.49,72.48 692.82,72.48 693.15,72.49 693.49,72.49 693.82,72.49 694.16,72.50 694.49,72.50 694.83,72.50 695.16,72.51 695.50,72.51 695.83,72.51 696.17,72.51 696.50,72.52 696.84,72.52 697.17,72.52 697.51,72.52 697.84,72.53 698.17,72.53 698.51,72.53 698.84,72.53 699.18,72.54 699.51,72.54 699.85,72.54 700.18,72.54 700.52,72.55 700.85,72.55 701.19,72.55 701.52,72.55 701.86,72.56 702.19,72.56 702.53,72.56 702.86,72.56 703.20,72.56 703.53,72.57 703.86,72.57 704.20,72.57 704.53,72.57 704.87,72.57 705.20,72.58 705.54,72.58 705.87,72.58 706.21,72.58 706.54,72.58 706.88,72.59 707.21,72.59 707.55,72.59 707.88,72.59 708.22,72.59 708.55,72.59 708.89,72.60 709.22,72.60" fill="none" stroke="#f03030" stroke-width="1.1" />
<text x="695.00" y="46.50" font-size="9" text-anchor="middle" fill="#555" font-weight="normal" font-family="Liberation Sans, sans-serif" >Diff. edge</text>
<line x1="692.40" y1="47.50" x2="692.40" y2="67.50" stroke="#000" stroke-width="1" />
<path d="M689.4,62.5 L692.4,68 L695.4,62.5" fill="none" stroke="#000" stroke-width="1" />
<text x="636.50" y="113.50" font-size="11" text-anchor="start" fill="#444" font-weight="normal" font-family="Liberation Sans, sans-serif" textLength="22.5" lengthAdjust="spacingAndGlyphs">λ=2L</text>
<line x1="642.00" y1="114.00" x2="642.00" y2="126.00" stroke="#000" stroke-width="1" />
<path d="M639,121 L642,126.5 L645,121" fill="none" stroke="#000" stroke-width="1" />
<polyline points="51.20,209.20 65.60,209.20 65.60,300.00 65.00,412.00" fill="none" stroke="#a4a4fc" stroke-width="0.9" />
<polyline points="93.80,209.20 86.50,209.20 86.50,316.00 87.30,320.00 89.40,412.00" fill="none" stroke="#a4a4fc" stroke-width="0.9" />
<polyline points="143.80,209.20 129.50,209.20 129.30,412.00" fill="none" stroke="#a4a4fc" stroke-width="0.9" />
<text x="31.50" y="212.00" font-size="7.5" text-anchor="middle" fill="#000" font-weight="bold" font-family="Liberation Serif, serif" >I</text>
<text x="104.00" y="212.00" font-size="7.5" text-anchor="middle" fill="#000" font-weight="bold" font-family="Liberation Serif, serif" >II</text>
<text x="155.00" y="212.00" font-size="7.5" text-anchor="middle" fill="#000" font-weight="bold" font-family="Liberation Serif, serif" >III</text>
<line x1="35.20" y1="232.50" x2="35.20" y2="316.50" stroke="#333" stroke-width="0.75" />
<line x1="32.20" y1="316.20" x2="35.20" y2="316.20" stroke="#000" stroke-width="0.8" />
<text x="31.70" y="319.00" font-size="7.5" text-anchor="end" fill="#000" font-weight="normal" font-family="Liberation Sans, sans-serif" >-40</text>
<line x1="33.40" y1="305.70" x2="35.20" y2="305.70" stroke="#000" stroke-width="0.8" />
<line x1="32.20" y1="295.20" x2="35.20" y2="295.20" stroke="#000" stroke-width="0.8" />
<text x="31.70" y="298.00" font-size="7.5" text-anchor="end" fill="#000" font-weight="normal" font-family="Liberation Sans, sans-serif" >0</text>
<line x1="33.40" y1="284.70" x2="35.20" y2="284.70" stroke="#000" stroke-width="0.8" />
<line x1="32.20" y1="274.20" x2="35.20" y2="274.20" stroke="#000" stroke-width="0.8" />
<text x="31.70" y="277.00" font-size="7.5" text-anchor="end" fill="#000" font-weight="normal" font-family="Liberation Sans, sans-serif" >40</text>
<line x1="33.40" y1="263.70" x2="35.20" y2="263.70" stroke="#000" stroke-width="0.8" />
<line x1="32.20" y1="253.20" x2="35.20" y2="253.20" stroke="#000" stroke-width="0.8" />
<text x="31.70" y="256.00" font-size="7.5" text-anchor="end" fill="#000" font-weight="normal" font-family="Liberation Sans, sans-serif" >80</text>
<line x1="33.40" y1="242.70" x2="35.20" y2="242.70" stroke="#000" stroke-width="0.8" />
<line x1="32.20" y1="232.20" x2="35.20" y2="232.20" stroke="#000" stroke-width="0.8" />
<text x="31.70" y="235.00" font-size="7.5" text-anchor="end" fill="#000" font-weight="normal" font-family="Liberation Sans, sans-serif" >120</text>
<line x1="35.20" y1="328.70" x2="35.20" y2="412.10" stroke="#333" stroke-width="0.75" />
<line x1="32.20" y1="411.85" x2="35.20" y2="411.85" stroke="#000" stroke-width="0.8" />
<text x="31.70" y="414.65" font-size="7.5" text-anchor="end" fill="#000" font-weight="normal" font-family="Liberation Sans, sans-serif" >-120</text>
<line x1="33.40" y1="401.43" x2="35.20" y2="401.43" stroke="#000" stroke-width="0.8" />
<line x1="32.20" y1="391.00" x2="35.20" y2="391.00" stroke="#000" stroke-width="0.8" />
<text x="31.70" y="393.80" font-size="7.5" text-anchor="end" fill="#000" font-weight="normal" font-family="Liberation Sans, sans-serif" >-80</text>
<line x1="33.40" y1="380.57" x2="35.20" y2="380.57" stroke="#000" stroke-width="0.8" />
<line x1="32.20" y1="370.15" x2="35.20" y2="370.15" stroke="#000" stroke-width="0.8" />
<text x="31.70" y="372.95" font-size="7.5" text-anchor="end" fill="#000" font-weight="normal" font-family="Liberation Sans, sans-serif" >-40</text>
<line x1="33.40" y1="359.73" x2="35.20" y2="359.73" stroke="#000" stroke-width="0.8" />
<line x1="32.20" y1="349.30" x2="35.20" y2="349.30" stroke="#000" stroke-width="0.8" />
<text x="31.70" y="352.10" font-size="7.5" text-anchor="end" fill="#000" font-weight="normal" font-family="Liberation Sans, sans-serif" >0</text>
<line x1="33.40" y1="338.88" x2="35.20" y2="338.88" stroke="#000" stroke-width="0.8" />
<line x1="32.20" y1="328.45" x2="35.20" y2="328.45" stroke="#000" stroke-width="0.8" />
<text x="31.70" y="331.25" font-size="7.5" text-anchor="end" fill="#000" font-weight="normal" font-family="Liberation Sans, sans-serif" >40</text>
<line x1="35.20" y1="412.10" x2="158.50" y2="412.10" stroke="#333" stroke-width="0.75" />
<line x1="35.20" y1="412.10" x2="35.20" y2="413.90" stroke="#000" stroke-width="0.8" />
<line x1="48.75" y1="412.10" x2="48.75" y2="415.10" stroke="#000" stroke-width="0.8" />
<text x="48.75" y="424.00" font-size="8.3" text-anchor="middle" fill="#000" font-weight="normal" font-family="Liberation Sans, sans-serif" >500</text>
<line x1="62.30" y1="412.10" x2="62.30" y2="413.90" stroke="#000" stroke-width="0.8" />
<line x1="75.85" y1="412.10" x2="75.85" y2="415.10" stroke="#000" stroke-width="0.8" />
<text x="75.85" y="424.00" font-size="8.3" text-anchor="middle" fill="#000" font-weight="normal" font-family="Liberation Sans, sans-serif" >600</text>
<line x1="89.40" y1="412.10" x2="89.40" y2="413.90" stroke="#000" stroke-width="0.8" />
<line x1="102.95" y1="412.10" x2="102.95" y2="415.10" stroke="#000" stroke-width="0.8" />
<text x="102.95" y="424.00" font-size="8.3" text-anchor="middle" fill="#000" font-weight="normal" font-family="Liberation Sans, sans-serif" >700</text>
<line x1="116.50" y1="412.10" x2="116.50" y2="413.90" stroke="#000" stroke-width="0.8" />
<line x1="130.05" y1="412.10" x2="130.05" y2="415.10" stroke="#000" stroke-width="0.8" />
<text x="130.05" y="424.00" font-size="8.3" text-anchor="middle" fill="#000" font-weight="normal" font-family="Liberation Sans, sans-serif" >800</text>
<line x1="143.60" y1="412.10" x2="143.60" y2="413.90" stroke="#000" stroke-width="0.8" />
<line x1="157.15" y1="412.10" x2="157.15" y2="415.10" stroke="#000" stroke-width="0.8" />
<text x="157.15" y="424.00" font-size="8.3" text-anchor="middle" fill="#000" font-weight="normal" font-family="Liberation Sans, sans-serif" >900</text>
<text x="97.00" y="437.00" font-size="9.2" text-anchor="middle" fill="#000" font-weight="normal" font-family="Liberation Sans, sans-serif" >Wavelength (nm)</text>
<path d="M35.20,294.80 C36.83,294.88 41.70,295.05 45.00,295.30 C48.30,295.55 52.67,296.15 55.00,296.30 C57.33,296.45 57.83,297.08 59.00,296.20 C60.17,295.32 60.85,292.63 62.00,291.00 C63.15,289.37 64.65,286.57 65.90,286.40 C67.15,286.23 68.23,287.40 69.50,290.00 C70.77,292.60 72.13,298.30 73.50,302.00 C74.87,305.70 76.53,311.70 77.70,312.20 C78.87,312.70 79.45,309.03 80.50,305.00 C81.55,300.97 82.80,292.43 84.00,288.00 C85.20,283.57 86.37,279.57 87.70,278.40 C89.03,277.23 90.45,279.57 92.00,281.00 C93.55,282.43 95.17,285.25 97.00,287.00 C98.83,288.75 100.83,290.50 103.00,291.50 C105.17,292.50 107.88,292.63 110.00,293.00 C112.12,293.37 114.20,295.03 115.70,293.70 C117.20,292.37 117.78,290.28 119.00,285.00 C120.22,279.72 121.75,268.33 123.00,262.00 C124.25,255.67 125.42,250.22 126.50,247.00 C127.58,243.78 128.50,243.20 129.50,242.70 C130.50,242.20 131.50,242.45 132.50,244.00 C133.50,245.55 134.58,249.83 135.50,252.00 C136.42,254.17 137.25,254.67 138.00,257.00 C138.75,259.33 139.17,261.00 140.00,266.00 C140.83,271.00 141.92,281.58 143.00,287.00 C144.08,292.42 145.58,296.33 146.50,298.50 C147.42,300.67 148.17,299.75 148.50,300.00" fill="none" stroke="#f03838" stroke-width="1" />
<polyline points="148.50,300.00 150.00,299.50 151.50,301.00 153.00,298.50 154.50,300.50 156.00,297.50 157.50,299.50 159.00,298.00" fill="none" stroke="#f03030" stroke-width="0.9" />
<path d="M35.20,349.00 C36.83,349.08 42.20,349.30 45.00,349.50 C47.80,349.70 49.78,350.20 52.00,350.20 C54.22,350.20 56.63,348.87 58.30,349.50 C59.97,350.13 60.65,352.25 62.00,354.00 C63.35,355.75 65.07,360.00 66.40,360.00 C67.73,360.00 68.57,358.00 70.00,354.00 C71.43,350.00 73.48,340.08 75.00,336.00 C76.52,331.92 77.77,329.50 79.10,329.50 C80.43,329.50 81.52,331.75 83.00,336.00 C84.48,340.25 86.48,349.93 88.00,355.00 C89.52,360.07 90.60,365.23 92.10,366.40 C93.60,367.57 94.85,364.23 97.00,362.00 C99.15,359.77 102.50,355.33 105.00,353.00 C107.50,350.67 109.95,349.18 112.00,348.00 C114.05,346.82 115.97,345.23 117.30,345.90 C118.63,346.57 119.05,347.98 120.00,352.00 C120.95,356.02 122.00,362.83 123.00,370.00 C124.00,377.17 125.08,389.08 126.00,395.00 C126.92,400.92 127.67,403.12 128.50,405.50 C129.33,407.88 130.08,408.88 131.00,409.30 C131.92,409.72 133.08,409.22 134.00,408.00 C134.92,406.78 135.75,403.42 136.50,402.00 C137.25,400.58 137.83,401.17 138.50,399.50 C139.17,397.83 139.75,396.58 140.50,392.00 C141.25,387.42 142.00,378.00 143.00,372.00 C144.00,366.00 145.42,359.50 146.50,356.00 C147.58,352.50 149.00,351.83 149.50,351.00" fill="none" stroke="#f03838" stroke-width="1" />
<polyline points="149.50,351.00 151.00,352.00 152.50,349.00 154.00,351.00 155.50,348.50 157.00,350.50 159.50,349.50" fill="none" stroke="#f03030" stroke-width="0.9" />
<rect x="159.60" y="248.90" width="45.20" height="49.50" fill="#8e8e8e" stroke="none" stroke-width="1" />
<path d="M165.1,252.60000000000002 L165.1,257.8 M162.5,255.20000000000002 L167.7,255.20000000000002 M165.1,252.60000000000002 L167.7,252.60000000000002 M167.7,255.20000000000002 L167.7,257.8 M165.1,257.8 L162.5,257.8 M162.5,255.20000000000002 L162.5,252.60000000000002" fill="none" stroke="#f4f4f4" stroke-width="1.15" />
<path d="M165.1,264.9 L165.1,270.1 M162.5,267.5 L167.7,267.5 M165.1,264.9 L167.7,264.9 M167.7,267.5 L167.7,270.1 M165.1,270.1 L162.5,270.1 M162.5,267.5 L162.5,264.9" fill="none" stroke="#f4f4f4" stroke-width="1.15" />
<path d="M165.1,277.2 L165.1,282.40000000000003 M162.5,279.8 L167.7,279.8 M165.1,277.2 L167.7,277.2 M167.7,279.8 L167.7,282.40000000000003 M165.1,282.40000000000003 L162.5,282.40000000000003 M162.5,279.8 L162.5,277.2" fill="none" stroke="#f4f4f4" stroke-width="1.15" />
<path d="M165.1,289.5 L165.1,294.70000000000005 M162.5,292.1 L167.7,292.1 M165.1,289.5 L167.7,289.5 M167.7,292.1 L167.7,294.70000000000005 M165.1,294.70000000000005 L162.5,294.70000000000005 M162.5,292.1 L162.5,289.5" fill="none" stroke="#f4f4f4" stroke-width="1.15" />
<path d="M176.4,252.60000000000002 L176.4,257.8 M173.8,255.20000000000002 L179.0,255.20000000000002 M176.4,252.60000000000002 L179.0,252.60000000000002 M179.0,255.20000000000002 L179.0,257.8 M176.4,257.8 L173.8,257.8 M173.8,255.20000000000002 L173.8,252.60000000000002" fill="none" stroke="#f4f4f4" stroke-width="1.15" />
<path d="M176.4,264.9 L176.4,270.1 M173.8,267.5 L179.0,267.5 M176.4,264.9 L179.0,264.9 M179.0,267.5 L179.0,270.1 M176.4,270.1 L173.8,270.1 M173.8,267.5 L173.8,264.9" fill="none" stroke="#f4f4f4" stroke-width="1.15" />
<path d="M176.4,277.2 L176.4,282.40000000000003 M173.8,279.8 L179.0,279.8 M176.4,277.2 L179.0,277.2 M179.0,279.8 L179.0,282.40000000000003 M176.4,282.40000000000003 L173.8,282.40000000000003 M173.8,279.8 L173.8,277.2" fill="none" stroke="#f4f4f4" stroke-width="1.15" />
<path d="M176.4,289.5 L176.4,294.70000000000005 M173.8,292.1 L179.0,292.1 M176.4,289.5 L179.0,289.5 M179.0,292.1 L179.0,294.70000000000005 M176.4,294.70000000000005 L173.8,294.70000000000005 M173.8,292.1 L173.8,289.5" fill="none" stroke="#f4f4f4" stroke-width="1.15" />
<path d="M187.7,252.60000000000002 L187.7,257.8 M185.1,255.20000000000002 L190.29999999999998,255.20000000000002 M187.7,252.60000000000002 L190.29999999999998,252.60000000000002 M190.29999999999998,255.20000000000002 L190.29999999999998,257.8 M187.7,257.8 L185.1,257.8 M185.1,255.20000000000002 L185.1,252.60000000000002" fill="none" stroke="#f4f4f4" stroke-width="1.15" />
<path d="M187.7,264.9 L187.7,270.1 M185.1,267.5 L190.29999999999998,267.5 M187.7,264.9 L190.29999999999998,264.9 M190.29999999999998,267.5 L190.29999999999998,270.1 M187.7,270.1 L185.1,270.1 M185.1,267.5 L185.1,264.9" fill="none" stroke="#f4f4f4" stroke-width="1.15" />
<path d="M187.7,277.2 L187.7,282.40000000000003 M185.1,279.8 L190.29999999999998,279.8 M187.7,277.2 L190.29999999999998,277.2 M190.29999999999998,279.8 L190.29999999999998,282.40000000000003 M187.7,282.40000000000003 L185.1,282.40000000000003 M185.1,279.8 L185.1,277.2" fill="none" stroke="#f4f4f4" stroke-width="1.15" />
<path d="M187.7,289.5 L187.7,294.70000000000005 M185.1,292.1 L190.29999999999998,292.1 M187.7,289.5 L190.29999999999998,289.5 M190.29999999999998,292.1 L190.29999999999998,294.70000000000005 M187.7,294.70000000000005 L185.1,294.70000000000005 M185.1,292.1 L185.1,289.5" fill="none" stroke="#f4f4f4" stroke-width="1.15" />
<path d="M199.0,252.60000000000002 L199.0,257.8 M196.4,255.20000000000002 L201.6,255.20000000000002 M199.0,252.60000000000002 L201.6,252.60000000000002 M201.6,255.20000000000002 L201.6,257.8 M199.0,257.8 L196.4,257.8 M196.4,255.20000000000002 L196.4,252.60000000000002" fill="none" stroke="#f4f4f4" stroke-width="1.15" />
<path d="M199.0,264.9 L199.0,270.1 M196.4,267.5 L201.6,267.5 M199.0,264.9 L201.6,264.9 M201.6,267.5 L201.6,270.1 M199.0,270.1 L196.4,270.1 M196.4,267.5 L196.4,264.9" fill="none" stroke="#f4f4f4" stroke-width="1.15" />
<path d="M199.0,277.2 L199.0,282.40000000000003 M196.4,279.8 L201.6,279.8 M199.0,277.2 L201.6,277.2 M201.6,279.8 L201.6,282.40000000000003 M199.0,282.40000000000003 L196.4,282.40000000000003 M196.4,279.8 L196.4,277.2" fill="none" stroke="#f4f4f4" stroke-width="1.15" />
<path d="M199.0,289.5 L199.0,294.70000000000005 M196.4,292.1 L201.6,292.1 M199.0,289.5 L201.6,289.5 M201.6,292.1 L201.6,294.70000000000005 M199.0,294.70000000000005 L196.4,294.70000000000005 M196.4,292.1 L196.4,289.5" fill="none" stroke="#f4f4f4" stroke-width="1.15" />
<rect x="160.00" y="348.10" width="45.20" height="49.50" fill="#8e8e8e" stroke="none" stroke-width="1" />
<path d="M165.5,351.8 L165.5,357.00000000000006 M162.9,354.40000000000003 L168.1,354.40000000000003 M165.5,351.8 L162.9,351.8 M162.9,354.40000000000003 L162.9,357.00000000000006 M165.5,357.00000000000006 L168.1,357.00000000000006 M168.1,354.40000000000003 L168.1,351.8" fill="none" stroke="#f4f4f4" stroke-width="1.15" />
<path d="M165.5,364.1 L165.5,369.30000000000007 M162.9,366.70000000000005 L168.1,366.70000000000005 M165.5,364.1 L162.9,364.1 M162.9,366.70000000000005 L162.9,369.30000000000007 M165.5,369.30000000000007 L168.1,369.30000000000007 M168.1,366.70000000000005 L168.1,364.1" fill="none" stroke="#f4f4f4" stroke-width="1.15" />
<path d="M165.5,376.40000000000003 L165.5,381.6000000000001 M162.9,379.00000000000006 L168.1,379.00000000000006 M165.5,376.40000000000003 L162.9,376.40000000000003 M162.9,379.00000000000006 L162.9,381.6000000000001 M165.5,381.6000000000001 L168.1,381.6000000000001 M168.1,379.00000000000006 L168.1,376.40000000000003" fill="none" stroke="#f4f4f4" stroke-width="1.15" />
<path d="M165.5,388.70000000000005 L165.5,393.9000000000001 M162.9,391.30000000000007 L168.1,391.30000000000007 M165.5,388.70000000000005 L162.9,388.70000000000005 M162.9,391.30000000000007 L162.9,393.9000000000001 M165.5,393.9000000000001 L168.1,393.9000000000001 M168.1,391.30000000000007 L168.1,388.70000000000005" fill="none" stroke="#f4f4f4" stroke-width="1.15" />
<path d="M176.8,351.8 L176.8,357.00000000000006 M174.20000000000002,354.40000000000003 L179.4,354.40000000000003 M176.8,351.8 L174.20000000000002,351.8 M174.20000000000002,354.40000000000003 L174.20000000000002,357.00000000000006 M176.8,357.00000000000006 L179.4,357.00000000000006 M179.4,354.40000000000003 L179.4,351.8" fill="none" stroke="#f4f4f4" stroke-width="1.15" />
<path d="M176.8,364.1 L176.8,369.30000000000007 M174.20000000000002,366.70000000000005 L179.4,366.70000000000005 M176.8,364.1 L174.20000000000002,364.1 M174.20000000000002,366.70000000000005 L174.20000000000002,369.30000000000007 M176.8,369.30000000000007 L179.4,369.30000000000007 M179.4,366.70000000000005 L179.4,364.1" fill="none" stroke="#f4f4f4" stroke-width="1.15" />
<path d="M176.8,376.40000000000003 L176.8,381.6000000000001 M174.20000000000002,379.00000000000006 L179.4,379.00000000000006 M176.8,376.40000000000003 L174.20000000000002,376.40000000000003 M174.20000000000002,379.00000000000006 L174.20000000000002,381.6000000000001 M176.8,381.6000000000001 L179.4,381.6000000000001 M179.4,379.00000000000006 L179.4,376.40000000000003" fill="none" stroke="#f4f4f4" stroke-width="1.15" />
<path d="M176.8,388.70000000000005 L176.8,393.9000000000001 M174.20000000000002,391.30000000000007 L179.4,391.30000000000007 M176.8,388.70000000000005 L174.20000000000002,388.70000000000005 M174.20000000000002,391.30000000000007 L174.20000000000002,393.9000000000001 M176.8,393.9000000000001 L179.4,393.9000000000001 M179.4,391.30000000000007 L179.4,388.70000000000005" fill="none" stroke="#f4f4f4" stroke-width="1.15" />
<path d="M188.1,351.8 L188.1,357.00000000000006 M185.5,354.40000000000003 L190.7,354.40000000000003 M188.1,351.8 L185.5,351.8 M185.5,354.40000000000003 L185.5,357.00000000000006 M188.1,357.00000000000006 L190.7,357.00000000000006 M190.7,354.40000000000003 L190.7,351.8" fill="none" stroke="#f4f4f4" stroke-width="1.15" />
<path d="M188.1,364.1 L188.1,369.30000000000007 M185.5,366.70000000000005 L190.7,366.70000000000005 M188.1,364.1 L185.5,364.1 M185.5,366.70000000000005 L185.5,369.30000000000007 M188.1,369.30000000000007 L190.7,369.30000000000007 M190.7,366.70000000000005 L190.7,364.1" fill="none" stroke="#f4f4f4" stroke-width="1.15" />
<path d="M188.1,376.40000000000003 L188.1,381.6000000000001 M185.5,379.00000000000006 L190.7,379.00000000000006 M188.1,376.40000000000003 L185.5,376.40000000000003 M185.5,379.00000000000006 L185.5,381.6000000000001 M188.1,381.6000000000001 L190.7,381.6000000000001 M190.7,379.00000000000006 L190.7,376.40000000000003" fill="none" stroke="#f4f4f4" stroke-width="1.15" />
<path d="M188.1,388.70000000000005 L188.1,393.9000000000001 M185.5,391.30000000000007 L190.7,391.30000000000007 M188.1,388.70000000000005 L185.5,388.70000000000005 M185.5,391.30000000000007 L185.5,393.9000000000001 M188.1,393.9000000000001 L190.7,393.9000000000001 M190.7,391.30000000000007 L190.7,388.70000000000005" fill="none" stroke="#f4f4f4" stroke-width="1.15" />
<path d="M199.4,351.8 L199.4,357.00000000000006 M196.8,354.40000000000003 L202.0,354.40000000000003 M199.4,351.8 L196.8,351.8 M196.8,354.40000000000003 L196.8,357.00000000000006 M199.4,357.00000000000006 L202.0,357.00000000000006 M202.0,354.40000000000003 L202.0,351.8" fill="none" stroke="#f4f4f4" stroke-width="1.15" />
<path d="M199.4,364.1 L199.4,369.30000000000007 M196.8,366.70000000000005 L202.0,366.70000000000005 M199.4,364.1 L196.8,364.1 M196.8,366.70000000000005 L196.8,369.30000000000007 M199.4,369.30000000000007 L202.0,369.30000000000007 M202.0,366.70000000000005 L202.0,364.1" fill="none" stroke="#f4f4f4" stroke-width="1.15" />
<path d="M199.4,376.40000000000003 L199.4,381.6000000000001 M196.8,379.00000000000006 L202.0,379.00000000000006 M199.4,376.40000000000003 L196.8,376.40000000000003 M196.8,379.00000000000006 L196.8,381.6000000000001 M199.4,381.6000000000001 L202.0,381.6000000000001 M202.0,379.00000000000006 L202.0,376.40000000000003" fill="none" stroke="#f4f4f4" stroke-width="1.15" />
<path d="M199.4,388.70000000000005 L199.4,393.9000000000001 M196.8,391.30000000000007 L202.0,391.30000000000007 M199.4,388.70000000000005 L196.8,388.70000000000005 M196.8,391.30000000000007 L196.8,393.9000000000001 M199.4,393.9000000000001 L202.0,393.9000000000001 M202.0,391.30000000000007 L202.0,388.70000000000005" fill="none" stroke="#f4f4f4" stroke-width="1.15" />
<text x="214.00" y="275.80" font-size="8.3" text-anchor="start" fill="#000" font-weight="bold" font-family="Liberation Sans, sans-serif" >RH PCM</text>
<text x="214.00" y="374.90" font-size="8.3" text-anchor="start" fill="#000" font-weight="bold" font-family="Liberation Sans, sans-serif" >LH PCM</text>
<line x1="359.30" y1="203.40" x2="359.30" y2="401.00" stroke="#58eefa" stroke-width="0.9" />
<line x1="372.30" y1="203.40" x2="372.30" y2="401.00" stroke="#58eefa" stroke-width="0.9" />
<line x1="385.30" y1="203.40" x2="385.30" y2="401.00" stroke="#58eefa" stroke-width="0.9" />
<line x1="398.30" y1="203.40" x2="398.30" y2="401.00" stroke="#58eefa" stroke-width="0.9" />
<line x1="411.30" y1="203.40" x2="411.30" y2="401.00" stroke="#58eefa" stroke-width="0.9" />
<line x1="424.30" y1="203.40" x2="424.30" y2="401.00" stroke="#58eefa" stroke-width="0.9" />
<line x1="437.30" y1="203.40" x2="437.30" y2="401.00" stroke="#58eefa" stroke-width="0.9" />
<line x1="450.30" y1="203.40" x2="450.30" y2="401.00" stroke="#58eefa" stroke-width="0.9" />
<line x1="463.30" y1="203.40" x2="463.30" y2="401.00" stroke="#58eefa" stroke-width="0.9" />
<line x1="346.30" y1="213.50" x2="464.50" y2="213.50" stroke="#58eefa" stroke-width="0.9" />
<line x1="346.30" y1="233.30" x2="464.50" y2="233.30" stroke="#58eefa" stroke-width="0.9" />
<line x1="346.30" y1="253.10" x2="464.50" y2="253.10" stroke="#58eefa" stroke-width="0.9" />
<line x1="346.30" y1="272.90" x2="464.50" y2="272.90" stroke="#58eefa" stroke-width="0.9" />
<line x1="346.30" y1="292.70" x2="464.50" y2="292.70" stroke="#58eefa" stroke-width="0.9" />
<line x1="346.30" y1="312.50" x2="464.50" y2="312.50" stroke="#58eefa" stroke-width="0.9" />
<line x1="346.30" y1="332.30" x2="464.50" y2="332.30" stroke="#58eefa" stroke-width="0.9" />
<line x1="346.30" y1="352.10" x2="464.50" y2="352.10" stroke="#58eefa" stroke-width="0.9" />
<line x1="346.30" y1="371.90" x2="464.50" y2="371.90" stroke="#58eefa" stroke-width="0.9" />
<line x1="346.30" y1="391.70" x2="464.50" y2="391.70" stroke="#58eefa" stroke-width="0.9" />
<line x1="482.94" y1="203.40" x2="482.94" y2="401.00" stroke="#58eefa" stroke-width="0.9" />
<line x1="491.48" y1="203.40" x2="491.48" y2="401.00" stroke="#58eefa" stroke-width="0.9" />
<line x1="500.02" y1="203.40" x2="500.02" y2="401.00" stroke="#58eefa" stroke-width="0.9" />
<line x1="508.56" y1="203.40" x2="508.56" y2="401.00" stroke="#58eefa" stroke-width="0.9" />
<line x1="525.64" y1="203.40" x2="525.64" y2="401.00" stroke="#58eefa" stroke-width="0.9" />
<line x1="534.18" y1="203.40" x2="534.18" y2="401.00" stroke="#58eefa" stroke-width="0.9" />
<line x1="542.72" y1="203.40" x2="542.72" y2="401.00" stroke="#58eefa" stroke-width="0.9" />
<line x1="551.26" y1="203.40" x2="551.26" y2="401.00" stroke="#58eefa" stroke-width="0.9" />
<line x1="559.80" y1="203.40" x2="559.80" y2="401.00" stroke="#58eefa" stroke-width="0.9" />
<line x1="568.34" y1="203.40" x2="568.34" y2="401.00" stroke="#58eefa" stroke-width="0.9" />
<line x1="576.88" y1="203.40" x2="576.88" y2="401.00" stroke="#58eefa" stroke-width="0.9" />
<line x1="585.42" y1="203.40" x2="585.42" y2="401.00" stroke="#58eefa" stroke-width="0.9" />
<line x1="593.96" y1="203.40" x2="593.96" y2="401.00" stroke="#58eefa" stroke-width="0.9" />
<line x1="602.50" y1="203.40" x2="602.50" y2="401.00" stroke="#58eefa" stroke-width="0.9" />
<line x1="482.90" y1="213.50" x2="602.50" y2="213.50" stroke="#58eefa" stroke-width="0.9" />
<line x1="482.90" y1="233.30" x2="602.50" y2="233.30" stroke="#58eefa" stroke-width="0.9" />
<line x1="482.90" y1="253.10" x2="602.50" y2="253.10" stroke="#58eefa" stroke-width="0.9" />
<line x1="482.90" y1="272.90" x2="602.50" y2="272.90" stroke="#58eefa" stroke-width="0.9" />
<line x1="482.90" y1="292.70" x2="602.50" y2="292.70" stroke="#58eefa" stroke-width="0.9" />
<line x1="482.90" y1="312.50" x2="602.50" y2="312.50" stroke="#58eefa" stroke-width="0.9" />
<line x1="482.90" y1="332.30" x2="602.50" y2="332.30" stroke="#58eefa" stroke-width="0.9" />
<line x1="482.90" y1="352.10" x2="602.50" y2="352.10" stroke="#58eefa" stroke-width="0.9" />
<line x1="482.90" y1="371.90" x2="602.50" y2="371.90" stroke="#58eefa" stroke-width="0.9" />
<line x1="482.90" y1="391.70" x2="602.50" y2="391.70" stroke="#58eefa" stroke-width="0.9" />
<text x="339.00" y="225.00" font-size="6.7" text-anchor="end" fill="#000" font-weight="bold" font-family="Liberation Sans, sans-serif" textLength="20.9" lengthAdjust="spacingAndGlyphs">Ethanol</text>
<text x="339.00" y="244.20" font-size="6.7" text-anchor="end" fill="#000" font-weight="bold" font-family="Liberation Sans, sans-serif" textLength="32.5" lengthAdjust="spacingAndGlyphs">Tryptophan</text>
<rect x="346.30" y="235.20" width="24.96" height="16.00" fill="#f00000" stroke="#111" stroke-width="0.6" />
<line x1="363.20" y1="243.20" x2="379.32" y2="243.20" stroke="#333" stroke-width="0.7" />
<line x1="363.20" y1="241.60" x2="363.20" y2="244.80" stroke="#333" stroke-width="0.7" />
<line x1="379.32" y1="241.60" x2="379.32" y2="244.80" stroke="#333" stroke-width="0.7" />
<text x="339.80" y="262.20" font-size="6.7" text-anchor="end" fill="#000" font-weight="bold" font-family="Liberation Sans, sans-serif" textLength="75.2" lengthAdjust="spacingAndGlyphs">Outer membrane protein A</text>
<text x="264.60" y="269.60" font-size="6.7" text-anchor="start" fill="#000" font-weight="bold" font-family="Liberation Sans, sans-serif" textLength="40" lengthAdjust="spacingAndGlyphs">(β-48% α-18%)</text>
<rect x="346.30" y="255.00" width="34.06" height="16.00" fill="#f00000" stroke="#111" stroke-width="0.6" />
<line x1="372.56" y1="263.00" x2="388.16" y2="263.00" stroke="#333" stroke-width="0.7" />
<line x1="372.56" y1="261.40" x2="372.56" y2="264.60" stroke="#333" stroke-width="0.7" />
<line x1="388.16" y1="261.40" x2="388.16" y2="264.60" stroke="#333" stroke-width="0.7" />
<text x="338.30" y="282.30" font-size="6.7" text-anchor="end" fill="#000" font-weight="bold" font-family="Liberation Sans, sans-serif" textLength="86.5" lengthAdjust="spacingAndGlyphs">Concanavalin A (β-46 % α-3% )</text>
<rect x="346.30" y="274.80" width="22.10" height="16.00" fill="#f00000" stroke="#111" stroke-width="0.6" />
<line x1="360.60" y1="282.80" x2="376.20" y2="282.80" stroke="#333" stroke-width="0.7" />
<line x1="360.60" y1="281.20" x2="360.60" y2="284.40" stroke="#333" stroke-width="0.7" />
<line x1="376.20" y1="281.20" x2="376.20" y2="284.40" stroke="#333" stroke-width="0.7" />
<text x="338.90" y="303.40" font-size="6.7" text-anchor="end" fill="#000" font-weight="bold" font-family="Liberation Sans, sans-serif" textLength="78.5" lengthAdjust="spacingAndGlyphs">Heat treated β-lactoglobulin</text>
<rect x="346.30" y="294.60" width="28.60" height="16.00" fill="#f00000" stroke="#111" stroke-width="0.6" />
<line x1="366.84" y1="302.60" x2="382.96" y2="302.60" stroke="#333" stroke-width="0.7" />
<line x1="366.84" y1="301.00" x2="366.84" y2="304.20" stroke="#333" stroke-width="0.7" />
<line x1="382.96" y1="301.00" x2="382.96" y2="304.20" stroke="#333" stroke-width="0.7" />
<text x="338.00" y="323.40" font-size="6.7" text-anchor="end" fill="#000" font-weight="bold" font-family="Liberation Sans, sans-serif" textLength="84.9" lengthAdjust="spacingAndGlyphs">β-lactoglobulin (β-40% α-12%)</text>
<rect x="346.30" y="314.40" width="9.10" height="16.00" fill="#f00000" stroke="#111" stroke-width="0.6" />
<line x1="347.34" y1="322.40" x2="363.46" y2="322.40" stroke="#333" stroke-width="0.7" />
<line x1="347.34" y1="320.80" x2="347.34" y2="324.00" stroke="#333" stroke-width="0.7" />
<line x1="363.46" y1="320.80" x2="363.46" y2="324.00" stroke="#333" stroke-width="0.7" />
<text x="335.30" y="344.60" font-size="6.7" text-anchor="end" fill="#000" font-weight="bold" font-family="Liberation Sans, sans-serif" textLength="51.3" lengthAdjust="spacingAndGlyphs">BSA (β-0% α-68%)</text>
<rect x="346.30" y="334.20" width="79.30" height="16.00" fill="#f00000" stroke="#111" stroke-width="0.6" />
<line x1="417.54" y1="342.20" x2="433.66" y2="342.20" stroke="#333" stroke-width="0.7" />
<line x1="417.54" y1="340.60" x2="417.54" y2="343.80" stroke="#333" stroke-width="0.7" />
<line x1="433.66" y1="340.60" x2="433.66" y2="343.80" stroke="#333" stroke-width="0.7" />
<text x="338.20" y="364.00" font-size="6.7" text-anchor="end" fill="#000" font-weight="bold" font-family="Liberation Sans, sans-serif" textLength="69.1" lengthAdjust="spacingAndGlyphs">Myoglobin (β-0% α-75%)</text>
<rect x="346.30" y="354.00" width="17.68" height="16.00" fill="#f00000" stroke="#111" stroke-width="0.6" />
<line x1="355.92" y1="362.00" x2="372.04" y2="362.00" stroke="#333" stroke-width="0.7" />
<line x1="355.92" y1="360.40" x2="355.92" y2="363.60" stroke="#333" stroke-width="0.7" />
<line x1="372.04" y1="360.40" x2="372.04" y2="363.60" stroke="#333" stroke-width="0.7" />
<text x="338.20" y="383.40" font-size="6.7" text-anchor="end" fill="#000" font-weight="bold" font-family="Liberation Sans, sans-serif" textLength="77" lengthAdjust="spacingAndGlyphs">Haemoglobin (β-0% α-75%)</text>
<rect x="346.30" y="373.80" width="98.80" height="16.00" fill="#f00000" stroke="#111" stroke-width="0.6" />
<line x1="437.04" y1="381.80" x2="453.16" y2="381.80" stroke="#333" stroke-width="0.7" />
<line x1="437.04" y1="380.20" x2="437.04" y2="383.40" stroke="#333" stroke-width="0.7" />
<line x1="453.16" y1="380.20" x2="453.16" y2="383.40" stroke="#333" stroke-width="0.7" />
<line x1="346.30" y1="203.40" x2="346.30" y2="401.00" stroke="#000" stroke-width="1.6" />
<line x1="344.10" y1="213.50" x2="348.50" y2="213.50" stroke="#000" stroke-width="1" />
<line x1="344.10" y1="233.30" x2="348.50" y2="233.30" stroke="#000" stroke-width="1" />
<line x1="344.10" y1="253.10" x2="348.50" y2="253.10" stroke="#000" stroke-width="1" />
<line x1="344.10" y1="272.90" x2="348.50" y2="272.90" stroke="#000" stroke-width="1" />
<line x1="344.10" y1="292.70" x2="348.50" y2="292.70" stroke="#000" stroke-width="1" />
<line x1="344.10" y1="312.50" x2="348.50" y2="312.50" stroke="#000" stroke-width="1" />
<line x1="344.10" y1="332.30" x2="348.50" y2="332.30" stroke="#000" stroke-width="1" />
<line x1="344.10" y1="352.10" x2="348.50" y2="352.10" stroke="#000" stroke-width="1" />
<line x1="344.10" y1="371.90" x2="348.50" y2="371.90" stroke="#000" stroke-width="1" />
<line x1="344.10" y1="391.70" x2="348.50" y2="391.70" stroke="#000" stroke-width="1" />
<line x1="346.30" y1="401.00" x2="466.00" y2="401.00" stroke="#000" stroke-width="1.3" />
<line x1="346.30" y1="401.00" x2="346.30" y2="404.50" stroke="#000" stroke-width="1" />
<text x="346.30" y="413.00" font-size="7.5" text-anchor="middle" fill="#000" font-weight="normal" font-family="Liberation Sans, sans-serif" >0</text>
<line x1="359.30" y1="401.00" x2="359.30" y2="403.50" stroke="#000" stroke-width="1" />
<line x1="372.30" y1="401.00" x2="372.30" y2="404.50" stroke="#000" stroke-width="1" />
<text x="372.30" y="413.00" font-size="7.5" text-anchor="middle" fill="#000" font-weight="normal" font-family="Liberation Sans, sans-serif" >1</text>
<line x1="385.30" y1="401.00" x2="385.30" y2="403.50" stroke="#000" stroke-width="1" />
<line x1="398.30" y1="401.00" x2="398.30" y2="404.50" stroke="#000" stroke-width="1" />
<text x="398.30" y="413.00" font-size="7.5" text-anchor="middle" fill="#000" font-weight="normal" font-family="Liberation Sans, sans-serif" >2</text>
<line x1="411.30" y1="401.00" x2="411.30" y2="403.50" stroke="#000" stroke-width="1" />
<line x1="424.30" y1="401.00" x2="424.30" y2="404.50" stroke="#000" stroke-width="1" />
<text x="424.30" y="413.00" font-size="7.5" text-anchor="middle" fill="#000" font-weight="normal" font-family="Liberation Sans, sans-serif" >3</text>
<line x1="437.30" y1="401.00" x2="437.30" y2="403.50" stroke="#000" stroke-width="1" />
<line x1="450.30" y1="401.00" x2="450.30" y2="404.50" stroke="#000" stroke-width="1" />
<text x="450.30" y="413.00" font-size="7.5" text-anchor="middle" fill="#000" font-weight="normal" font-family="Liberation Sans, sans-serif" >4</text>
<line x1="463.30" y1="401.00" x2="463.30" y2="403.50" stroke="#000" stroke-width="1" />
<text x="406.00" y="427.00" font-size="8.5" text-anchor="middle" fill="#000" font-weight="normal" font-family="Liberation Sans, sans-serif" >Δλ<tspan font-size="5" dy="1.5">AV</tspan><tspan dy="-1.5"> (nm)</tspan></text>
<rect x="517.10" y="215.60" width="0.43" height="4.80" fill="#0000f0" stroke="#111" stroke-width="0.6" />
<line x1="516.33" y1="218.00" x2="518.73" y2="218.00" stroke="#333" stroke-width="0.5" />
<rect x="517.10" y="220.90" width="0.85" height="4.80" fill="#00f000" stroke="#111" stroke-width="0.6" />
<line x1="516.75" y1="223.30" x2="519.15" y2="223.30" stroke="#333" stroke-width="0.5" />
<rect x="517.10" y="226.20" width="0.85" height="4.80" fill="#f00000" stroke="#111" stroke-width="0.6" />
<line x1="516.75" y1="228.60" x2="519.15" y2="228.60" stroke="#333" stroke-width="0.5" />
<rect x="498.74" y="235.40" width="18.36" height="4.80" fill="#0000f0" stroke="#111" stroke-width="0.6" />
<line x1="497.54" y1="237.80" x2="499.94" y2="237.80" stroke="#333" stroke-width="0.5" />
<rect x="494.90" y="240.70" width="22.20" height="4.80" fill="#00f000" stroke="#111" stroke-width="0.6" />
<line x1="493.70" y1="243.10" x2="496.10" y2="243.10" stroke="#333" stroke-width="0.5" />
<rect x="505.57" y="246.00" width="11.53" height="4.80" fill="#f00000" stroke="#111" stroke-width="0.6" />
<line x1="504.37" y1="248.40" x2="506.77" y2="248.40" stroke="#333" stroke-width="0.5" />
<rect x="517.10" y="255.20" width="13.66" height="4.80" fill="#0000f0" stroke="#111" stroke-width="0.6" />
<line x1="529.56" y1="257.60" x2="531.96" y2="257.60" stroke="#333" stroke-width="0.5" />
<rect x="517.10" y="260.50" width="17.51" height="4.80" fill="#00f000" stroke="#111" stroke-width="0.6" />
<line x1="533.41" y1="262.90" x2="535.81" y2="262.90" stroke="#333" stroke-width="0.5" />
<rect x="514.54" y="265.80" width="2.56" height="4.80" fill="#f00000" stroke="#111" stroke-width="0.6" />
<line x1="513.34" y1="268.20" x2="515.74" y2="268.20" stroke="#333" stroke-width="0.5" />
<rect x="517.10" y="275.00" width="23.91" height="4.80" fill="#0000f0" stroke="#111" stroke-width="0.6" />
<line x1="539.81" y1="277.40" x2="542.21" y2="277.40" stroke="#333" stroke-width="0.5" />
<rect x="517.10" y="280.30" width="68.32" height="4.80" fill="#00f000" stroke="#111" stroke-width="0.6" />
<line x1="584.22" y1="282.70" x2="586.62" y2="282.70" stroke="#333" stroke-width="0.5" />
<rect x="517.10" y="285.60" width="8.11" height="4.80" fill="#f00000" stroke="#111" stroke-width="0.6" />
<line x1="524.01" y1="288.00" x2="526.41" y2="288.00" stroke="#333" stroke-width="0.5" />
<rect x="517.10" y="294.80" width="1.28" height="4.80" fill="#0000f0" stroke="#111" stroke-width="0.6" />
<line x1="517.18" y1="297.20" x2="519.58" y2="297.20" stroke="#333" stroke-width="0.5" />
<rect x="517.10" y="300.10" width="4.27" height="4.80" fill="#00f000" stroke="#111" stroke-width="0.6" />
<line x1="520.17" y1="302.50" x2="522.57" y2="302.50" stroke="#333" stroke-width="0.5" />
<rect x="517.10" y="305.40" width="0.85" height="4.80" fill="#f00000" stroke="#111" stroke-width="0.6" />
<line x1="516.75" y1="307.80" x2="519.15" y2="307.80" stroke="#333" stroke-width="0.5" />
<rect x="517.10" y="314.60" width="47.40" height="4.80" fill="#0000f0" stroke="#111" stroke-width="0.6" />
<line x1="563.30" y1="317.00" x2="565.70" y2="317.00" stroke="#333" stroke-width="0.5" />
<rect x="517.10" y="319.90" width="70.03" height="4.80" fill="#00f000" stroke="#111" stroke-width="0.6" />
<line x1="585.93" y1="322.30" x2="588.33" y2="322.30" stroke="#333" stroke-width="0.5" />
<rect x="517.10" y="325.20" width="22.63" height="4.80" fill="#f00000" stroke="#111" stroke-width="0.6" />
<line x1="538.53" y1="327.60" x2="540.93" y2="327.60" stroke="#333" stroke-width="0.5" />
<rect x="514.54" y="334.40" width="2.56" height="4.80" fill="#0000f0" stroke="#111" stroke-width="0.6" />
<line x1="513.34" y1="336.80" x2="515.74" y2="336.80" stroke="#333" stroke-width="0.5" />
<rect x="517.10" y="339.70" width="3.84" height="4.80" fill="#00f000" stroke="#111" stroke-width="0.6" />
<line x1="519.74" y1="342.10" x2="522.14" y2="342.10" stroke="#333" stroke-width="0.5" />
<rect x="514.11" y="345.00" width="2.99" height="4.80" fill="#f00000" stroke="#111" stroke-width="0.6" />
<line x1="512.91" y1="347.40" x2="515.31" y2="347.40" stroke="#333" stroke-width="0.5" />
<rect x="517.10" y="354.20" width="0.43" height="4.80" fill="#0000f0" stroke="#111" stroke-width="0.6" />
<line x1="516.33" y1="356.60" x2="518.73" y2="356.60" stroke="#333" stroke-width="0.5" />
<rect x="517.10" y="359.50" width="2.56" height="4.80" fill="#00f000" stroke="#111" stroke-width="0.6" />
<line x1="518.46" y1="361.90" x2="520.86" y2="361.90" stroke="#333" stroke-width="0.5" />
<rect x="517.10" y="364.80" width="2.99" height="4.80" fill="#f00000" stroke="#111" stroke-width="0.6" />
<line x1="518.89" y1="367.20" x2="521.29" y2="367.20" stroke="#333" stroke-width="0.5" />
<rect x="517.10" y="374.00" width="0.85" height="4.80" fill="#0000f0" stroke="#111" stroke-width="0.6" />
<line x1="516.75" y1="376.40" x2="519.15" y2="376.40" stroke="#333" stroke-width="0.5" />
<rect x="517.10" y="379.30" width="2.13" height="4.80" fill="#00f000" stroke="#111" stroke-width="0.6" />
<line x1="518.03" y1="381.70" x2="520.44" y2="381.70" stroke="#333" stroke-width="0.5" />
<rect x="517.10" y="384.60" width="4.27" height="4.80" fill="#f00000" stroke="#111" stroke-width="0.6" />
<line x1="520.17" y1="387.00" x2="522.57" y2="387.00" stroke="#333" stroke-width="0.5" />
<line x1="517.10" y1="203.40" x2="517.10" y2="401.00" stroke="#000" stroke-width="1.6" />
<line x1="514.90" y1="213.50" x2="519.30" y2="213.50" stroke="#000" stroke-width="1" />
<line x1="514.90" y1="233.30" x2="519.30" y2="233.30" stroke="#000" stroke-width="1" />
<line x1="514.90" y1="253.10" x2="519.30" y2="253.10" stroke="#000" stroke-width="1" />
<line x1="514.90" y1="272.90" x2="519.30" y2="272.90" stroke="#000" stroke-width="1" />
<line x1="514.90" y1="292.70" x2="519.30" y2="292.70" stroke="#000" stroke-width="1" />
<line x1="514.90" y1="312.50" x2="519.30" y2="312.50" stroke="#000" stroke-width="1" />
<line x1="514.90" y1="332.30" x2="519.30" y2="332.30" stroke="#000" stroke-width="1" />
<line x1="514.90" y1="352.10" x2="519.30" y2="352.10" stroke="#000" stroke-width="1" />
<line x1="514.90" y1="371.90" x2="519.30" y2="371.90" stroke="#000" stroke-width="1" />
<line x1="514.90" y1="391.70" x2="519.30" y2="391.70" stroke="#000" stroke-width="1" />
<line x1="482.90" y1="401.00" x2="602.50" y2="401.00" stroke="#000" stroke-width="1.3" />
<line x1="482.94" y1="401.00" x2="482.94" y2="404.50" stroke="#000" stroke-width="1" />
<text x="482.94" y="413.00" font-size="7.5" text-anchor="middle" fill="#000" font-weight="normal" font-family="Liberation Sans, sans-serif" >-8</text>
<line x1="491.48" y1="401.00" x2="491.48" y2="403.50" stroke="#000" stroke-width="1" />
<line x1="500.02" y1="401.00" x2="500.02" y2="404.50" stroke="#000" stroke-width="1" />
<text x="500.02" y="413.00" font-size="7.5" text-anchor="middle" fill="#000" font-weight="normal" font-family="Liberation Sans, sans-serif" >-4</text>
<line x1="508.56" y1="401.00" x2="508.56" y2="403.50" stroke="#000" stroke-width="1" />
<line x1="517.10" y1="401.00" x2="517.10" y2="404.50" stroke="#000" stroke-width="1" />
<text x="517.10" y="413.00" font-size="7.5" text-anchor="middle" fill="#000" font-weight="normal" font-family="Liberation Sans, sans-serif" >0</text>
<line x1="525.64" y1="401.00" x2="525.64" y2="403.50" stroke="#000" stroke-width="1" />
<line x1="534.18" y1="401.00" x2="534.18" y2="404.50" stroke="#000" stroke-width="1" />
<text x="534.18" y="413.00" font-size="7.5" text-anchor="middle" fill="#000" font-weight="normal" font-family="Liberation Sans, sans-serif" >4</text>
<line x1="542.72" y1="401.00" x2="542.72" y2="403.50" stroke="#000" stroke-width="1" />
<line x1="551.26" y1="401.00" x2="551.26" y2="404.50" stroke="#000" stroke-width="1" />
<text x="551.26" y="413.00" font-size="7.5" text-anchor="middle" fill="#000" font-weight="normal" font-family="Liberation Sans, sans-serif" >8</text>
<line x1="559.80" y1="401.00" x2="559.80" y2="403.50" stroke="#000" stroke-width="1" />
<line x1="568.34" y1="401.00" x2="568.34" y2="404.50" stroke="#000" stroke-width="1" />
<text x="568.34" y="413.00" font-size="7.5" text-anchor="middle" fill="#000" font-weight="normal" font-family="Liberation Sans, sans-serif" >12</text>
<line x1="576.88" y1="401.00" x2="576.88" y2="403.50" stroke="#000" stroke-width="1" />
<line x1="585.42" y1="401.00" x2="585.42" y2="404.50" stroke="#000" stroke-width="1" />
<text x="585.42" y="413.00" font-size="7.5" text-anchor="middle" fill="#000" font-weight="normal" font-family="Liberation Sans, sans-serif" >16</text>
<line x1="593.96" y1="401.00" x2="593.96" y2="403.50" stroke="#000" stroke-width="1" />
<line x1="602.50" y1="401.00" x2="602.50" y2="404.50" stroke="#000" stroke-width="1" />
<text x="602.50" y="413.00" font-size="7.5" text-anchor="middle" fill="#000" font-weight="normal" font-family="Liberation Sans, sans-serif" >20</text>
<text x="543.00" y="427.50" font-size="8.5" text-anchor="middle" fill="#000" font-weight="normal" font-family="Liberation Sans, sans-serif" >ΔΔλ (nm)</text>
<rect x="548.40" y="207.00" width="38.20" height="42.50" fill="#fff" stroke="#222" stroke-width="0.7" />
<rect x="551.20" y="211.70" width="21.10" height="8.00" fill="#0000f0" stroke="#111" stroke-width="0.6" />
<text x="574.50" y="219.00" font-size="9.5" text-anchor="start" fill="#000" font-weight="normal" font-family="Liberation Serif, serif" >III</text>
<rect x="551.20" y="223.70" width="21.10" height="8.00" fill="#00f000" stroke="#111" stroke-width="0.6" />
<text x="574.50" y="231.00" font-size="9.5" text-anchor="start" fill="#000" font-weight="normal" font-family="Liberation Serif, serif" >II</text>
<rect x="551.20" y="235.60" width="21.10" height="8.00" fill="#f00000" stroke="#111" stroke-width="0.6" />
<text x="574.50" y="242.90" font-size="9.5" text-anchor="start" fill="#000" font-weight="normal" font-family="Liberation Serif, serif" >I</text>
<path d="M518.5,215.5 C521,218 516,220 518,223 C520.5,226 515.5,228 518.5,231.5" fill="none" stroke="#333" stroke-width="0.7" />
<rect x="615.70" y="266.00" width="101.80" height="27.80" fill="url(#slabA)" stroke="none" stroke-width="1" />
<rect x="615.70" y="384.70" width="106.30" height="30.70" fill="url(#slabB)" stroke="none" stroke-width="1" />
<ellipse cx="664" cy="279" rx="22" ry="5" fill="#303030" opacity="0.35" filter="url(#blur3)"/>
<ellipse cx="650.5" cy="228.7" rx="6.5" ry="2.8" transform="rotate(-25 650.5 228.7)" fill="#c8c8c8" stroke="#888" stroke-width="0.5"/>
<circle cx="650.5" cy="228.7" r="1.1" fill="#3040c0"/>
<ellipse cx="685.1" cy="244.2" rx="6.5" ry="2.8" transform="rotate(30 685.1 244.2)" fill="#c8c8c8" stroke="#888" stroke-width="0.5"/>
<circle cx="685.1" cy="244.2" r="1.1" fill="#3040c0"/>
<ellipse cx="677.8" cy="259.7" rx="6.5" ry="2.8" transform="rotate(-20 677.8 259.7)" fill="#c8c8c8" stroke="#888" stroke-width="0.5"/>
<circle cx="677.8" cy="259.7" r="1.1" fill="#3040c0"/>
<ellipse cx="641.4" cy="250.6" rx="6.5" ry="2.8" transform="rotate(60 641.4 250.6)" fill="#c8c8c8" stroke="#888" stroke-width="0.5"/>
<circle cx="641.4" cy="250.6" r="1.1" fill="#3040c0"/>
<circle cx="645.5" cy="225" r="1.4" fill="#e02020"/>
<circle cx="684" cy="266" r="1.4" fill="#e02020"/>
<circle cx="681" cy="262" r="1.4" fill="#e02020"/>
<circle cx="648" cy="229" r="1.4" fill="#e02020"/>
<path d="M662,212 C668,210 672,214 676,212" fill="none" stroke="#d04040" stroke-width="0.5" />
<path d="M680,218 C684,222 680,228 684,230" fill="none" stroke="#d04040" stroke-width="0.5" />
<path d="M690,240 C694,248 690,252 694,255" fill="none" stroke="#d04040" stroke-width="0.5" />
<path d="M655,248 C660,252 664,248 668,252" fill="none" stroke="#d04040" stroke-width="0.5" />
<path d="M630,247 C628,252 632,256 630,260" fill="none" stroke="#d04040" stroke-width="0.5" />
<path d="M650,280 C660,282 670,279 676,281" fill="none" stroke="#d04040" stroke-width="0.5" />
<path d="M643.2,240.5 L668.7,230.5" fill="none" stroke="#1a9aa2" stroke-width="5.8" stroke-linecap="round"/>
<path d="M643.2,240.5 L668.7,230.5" fill="none" stroke="#3cd0d8" stroke-width="5" stroke-linecap="round"/>
<path d="M643.2,239.6 L668.7,229.6" fill="none" stroke="#9af0f4" stroke-width="1.5" stroke-linecap="round" opacity="0.7"/>
<path d="M645,218.7 L667.8,223.2" fill="none" stroke="#1a9aa2" stroke-width="5.8" stroke-linecap="round"/>
<path d="M645,218.7 L667.8,223.2" fill="none" stroke="#3cd0d8" stroke-width="5" stroke-linecap="round"/>
<path d="M645,217.79999999999998 L667.8,222.29999999999998" fill="none" stroke="#9af0f4" stroke-width="1.5" stroke-linecap="round" opacity="0.7"/>
<path d="M663.3,212.3 L656.9,222.3" fill="none" stroke="#1a9aa2" stroke-width="5.8" stroke-linecap="round"/>
<path d="M663.3,212.3 L656.9,222.3" fill="none" stroke="#3cd0d8" stroke-width="5" stroke-linecap="round"/>
<path d="M663.3,211.4 L656.9,221.4" fill="none" stroke="#9af0f4" stroke-width="1.5" stroke-linecap="round" opacity="0.7"/>
<path d="M667.8,212.3 L681.5,230.5" fill="none" stroke="#1a9aa2" stroke-width="5.8" stroke-linecap="round"/>
<path d="M667.8,212.3 L681.5,230.5" fill="none" stroke="#3cd0d8" stroke-width="5" stroke-linecap="round"/>
<path d="M667.8,211.4 L681.5,229.6" fill="none" stroke="#9af0f4" stroke-width="1.5" stroke-linecap="round" opacity="0.7"/>
<path d="M655,243 L670.6,237.8" fill="none" stroke="#1a9aa2" stroke-width="5.8" stroke-linecap="round"/>
<path d="M655,243 L670.6,237.8" fill="none" stroke="#3cd0d8" stroke-width="5" stroke-linecap="round"/>
<path d="M655,242.1 L670.6,236.9" fill="none" stroke="#9af0f4" stroke-width="1.5" stroke-linecap="round" opacity="0.7"/>
<path d="M632.3,247.8 L640.5,263.3" fill="none" stroke="#1a9aa2" stroke-width="5.8" stroke-linecap="round"/>
<path d="M632.3,247.8 L640.5,263.3" fill="none" stroke="#3cd0d8" stroke-width="5" stroke-linecap="round"/>
<path d="M632.3,246.9 L640.5,262.40000000000003" fill="none" stroke="#9af0f4" stroke-width="1.5" stroke-linecap="round" opacity="0.7"/>
<path d="M636,252.4 L644.1,238.7" fill="none" stroke="#1a9aa2" stroke-width="5.8" stroke-linecap="round"/>
<path d="M636,252.4 L644.1,238.7" fill="none" stroke="#3cd0d8" stroke-width="5" stroke-linecap="round"/>
<path d="M636,251.5 L644.1,237.79999999999998" fill="none" stroke="#9af0f4" stroke-width="1.5" stroke-linecap="round" opacity="0.7"/>
<path d="M646.9,263.3 L672.4,252.4" fill="none" stroke="#1a9aa2" stroke-width="5.8" stroke-linecap="round"/>
<path d="M646.9,263.3 L672.4,252.4" fill="none" stroke="#3cd0d8" stroke-width="5" stroke-linecap="round"/>
<path d="M646.9,262.40000000000003 L672.4,251.5" fill="none" stroke="#9af0f4" stroke-width="1.5" stroke-linecap="round" opacity="0.7"/>
<path d="M650.5,257 L656.9,273.3" fill="none" stroke="#1a9aa2" stroke-width="5.8" stroke-linecap="round"/>
<path d="M650.5,257 L656.9,273.3" fill="none" stroke="#3cd0d8" stroke-width="5" stroke-linecap="round"/>
<path d="M650.5,256.1 L656.9,272.40000000000003" fill="none" stroke="#9af0f4" stroke-width="1.5" stroke-linecap="round" opacity="0.7"/>
<path d="M666.9,261.5 L681.5,274.2" fill="none" stroke="#1a9aa2" stroke-width="5.8" stroke-linecap="round"/>
<path d="M666.9,261.5 L681.5,274.2" fill="none" stroke="#3cd0d8" stroke-width="5" stroke-linecap="round"/>
<path d="M666.9,260.6 L681.5,273.3" fill="none" stroke="#9af0f4" stroke-width="1.5" stroke-linecap="round" opacity="0.7"/>
<path d="M666.9,243.3 L681.5,250.6" fill="none" stroke="#1a9aa2" stroke-width="5.8" stroke-linecap="round"/>
<path d="M666.9,243.3 L681.5,250.6" fill="none" stroke="#3cd0d8" stroke-width="5" stroke-linecap="round"/>
<path d="M666.9,242.4 L681.5,249.7" fill="none" stroke="#9af0f4" stroke-width="1.5" stroke-linecap="round" opacity="0.7"/>
<path d="M685.1,228.7 L695.2,244.2" fill="none" stroke="#1a9aa2" stroke-width="5.8" stroke-linecap="round"/>
<path d="M685.1,228.7 L695.2,244.2" fill="none" stroke="#3cd0d8" stroke-width="5" stroke-linecap="round"/>
<path d="M685.1,227.79999999999998 L695.2,243.29999999999998" fill="none" stroke="#9af0f4" stroke-width="1.5" stroke-linecap="round" opacity="0.7"/>
<path d="M641,272 L660,266" fill="none" stroke="#1a9aa2" stroke-width="5.8" stroke-linecap="round"/>
<path d="M641,272 L660,266" fill="none" stroke="#3cd0d8" stroke-width="5" stroke-linecap="round"/>
<path d="M641,271.1 L660,265.1" fill="none" stroke="#9af0f4" stroke-width="1.5" stroke-linecap="round" opacity="0.7"/>
<path d="M657,279 L668,266" fill="none" stroke="#1a9aa2" stroke-width="5.8" stroke-linecap="round"/>
<path d="M657,279 L668,266" fill="none" stroke="#3cd0d8" stroke-width="5" stroke-linecap="round"/>
<path d="M657,278.1 L668,265.1" fill="none" stroke="#9af0f4" stroke-width="1.5" stroke-linecap="round" opacity="0.7"/>
<path d="M664,268 L684,262" fill="none" stroke="#1a9aa2" stroke-width="5.8" stroke-linecap="round"/>
<path d="M664,268 L684,262" fill="none" stroke="#3cd0d8" stroke-width="5" stroke-linecap="round"/>
<path d="M664,267.1 L684,261.1" fill="none" stroke="#9af0f4" stroke-width="1.5" stroke-linecap="round" opacity="0.7"/>
<path d="M676,247 L684,242" fill="none" stroke="#1a9aa2" stroke-width="5.8" stroke-linecap="round"/>
<path d="M676,247 L684,242" fill="none" stroke="#3cd0d8" stroke-width="5" stroke-linecap="round"/>
<path d="M676,246.1 L684,241.1" fill="none" stroke="#9af0f4" stroke-width="1.5" stroke-linecap="round" opacity="0.7"/>
<path d="M630,246 L648,240" fill="none" stroke="#1a9aa2" stroke-width="5.8" stroke-linecap="round"/>
<path d="M630,246 L648,240" fill="none" stroke="#3cd0d8" stroke-width="5" stroke-linecap="round"/>
<path d="M630,245.1 L648,239.1" fill="none" stroke="#9af0f4" stroke-width="1.5" stroke-linecap="round" opacity="0.7"/>
<path d="M674.2,236.9 L693.3,229.6" fill="none" stroke="#1a9aa2" stroke-width="5.8" stroke-linecap="round"/>
<path d="M674.2,236.9 L693.3,229.6" fill="none" stroke="#2aa0a8" stroke-width="5" stroke-linecap="round"/>
<path d="M674.2,236.0 L693.3,228.7" fill="none" stroke="#9af0f4" stroke-width="1.5" stroke-linecap="round" opacity="0.7"/>
<ellipse cx="693.5" cy="229.8" rx="2.3" ry="2.6" fill="#40d8e0"/>
<circle cx="652" cy="248" r="2" fill="#40d0d8"/>
<path d="M624,387 C626,383 630,386 633,383 C636,380 634,377 638,376" fill="none" stroke="#d89a98" stroke-width="0.8" />
<path d="M631,396 C634,401 640,403 648,401 C652,400 655,404 658,402" fill="none" stroke="#d89a98" stroke-width="0.8" />
<path d="M656,366 C658,362 661,364 660,360 C659,357 661,356 663,358" fill="none" stroke="#d89a98" stroke-width="0.8" />
<path d="M672,368 C670,364 676,362 678,360 C680,358 678,356 681,355" fill="none" stroke="#d89a98" stroke-width="0.8" />
<path d="M700,386 C708,384 714,388 710,394 C706,399 700,401 693,398" fill="none" stroke="#d89a98" stroke-width="0.8" />
<path d="M668,397 C672,402 684,404 690,399" fill="none" stroke="#d89a98" stroke-width="0.8" />
<path d="M706,378 C711,376 715,381 712,386" fill="none" stroke="#d89a98" stroke-width="0.8" />
<path d="M636,376 C640,373 644,376 648,373" fill="none" stroke="#d89a98" stroke-width="0.8" />
<path d="M688,368 C692,366 694,371 698,369" fill="none" stroke="#d89a98" stroke-width="0.8" />
<path d="M662,373 C666,377 664,382 668,384" fill="none" stroke="#d89a98" stroke-width="0.8" />
<path d="M700,374 C704,377 706,374 710,377" fill="none" stroke="#d89a98" stroke-width="0.8" />
<path d="M628,386 C636,374 648,366 662,365 L663,371 C650,372 640,379 633,389 Z" fill="#a86c6c" stroke="none" stroke-width="1" />
<path d="M629.0,386.5 C637,375.0 649,367.0 662,366.0" fill="none" stroke="#603838" stroke-width="1.3" />
<path d="M630.3,387.3 C638,376.3 650,368.5 662,367.6" fill="none" stroke="#c08a88" stroke-width="1.3" />
<path d="M631.6,388.1 C639,377.6 651,370.0 662,369.2" fill="none" stroke="#7a4a4a" stroke-width="1.3" />
<path d="M632.9,388.9 C640,378.9 652,371.5 662,370.8" fill="none" stroke="#c89898" stroke-width="1.3" />
<path d="M679,358 C690,361 700,370 705,383 L699,385 C695,374 688,367 678,364 Z" fill="#a86c6c" stroke="none" stroke-width="1" />
<path d="M679,358.5 C690.0,362.0 699,371.0 704.5,383.5" fill="none" stroke="#603838" stroke-width="1.3" />
<path d="M679,360.1 C689.6,363.3 698,371.9 703.1,383.5" fill="none" stroke="#c08a88" stroke-width="1.3" />
<path d="M679,361.7 C689.2,364.6 697,372.8 701.7,383.5" fill="none" stroke="#7a4a4a" stroke-width="1.3" />
<path d="M679,363.3 C688.8,365.9 696,373.7 700.3,383.5" fill="none" stroke="#c89898" stroke-width="1.3" />
<path d="M639,379 L641,393" fill="none" stroke="#e020e0" stroke-width="2.0" />
<path d="M642.5,378 L645,396" fill="none" stroke="#e020e0" stroke-width="2.0" />
<path d="M646,377 L648.5,397" fill="none" stroke="#e020e0" stroke-width="2.0" />
<path d="M649.5,378 L652,397" fill="none" stroke="#e020e0" stroke-width="2.0" />
<path d="M653,379 L655,395" fill="none" stroke="#e020e0" stroke-width="2.0" />
<path d="M656.5,381 L658,392" fill="none" stroke="#e020e0" stroke-width="2.0" />
<path d="M662,382 L664,390" fill="none" stroke="#e020e0" stroke-width="2.0" />
<path d="M666,380 L668,388" fill="none" stroke="#e020e0" stroke-width="2.0" />
<path d="M669,381 L670.5,387" fill="none" stroke="#e020e0" stroke-width="2.0" />
<path d="M684,379 L675,384" fill="none" stroke="#c010c8" stroke-width="2.1" />
<path d="M686,385 L694,389" fill="none" stroke="#c010c8" stroke-width="2.1" />
<path d="M689,390 L697,386" fill="none" stroke="#c010c8" stroke-width="2.1" />
<path d="M695,388 L702,383" fill="none" stroke="#c010c8" stroke-width="2.1" />
<path d="M680,384 L689,381" fill="none" stroke="#c010c8" stroke-width="2.1" />
<path d="M692,393 L700,389" fill="none" stroke="#c010c8" stroke-width="2.1" />
<path d="M655.6,375.5 L667,376" fill="none" stroke="#1a9aa2" stroke-width="6.0" stroke-linecap="butt"/>
<path d="M655.6,375.5 L667,376" fill="none" stroke="#30e4ec" stroke-width="5.2" stroke-linecap="butt"/>
<ellipse cx="667" cy="376" rx="2.08" ry="2.6" fill="#20b8c0"/>
<path d="M658,374 L661,379" fill="none" stroke="#1a9aa2" stroke-width="6.0" stroke-linecap="butt"/>
<path d="M658,374 L661,379" fill="none" stroke="#30e4ec" stroke-width="5.2" stroke-linecap="butt"/>
<ellipse cx="661" cy="379" rx="2.08" ry="2.6" fill="#20b8c0"/>
<path d="M658,393 L663,403" fill="none" stroke="#1a9aa2" stroke-width="6.0" stroke-linecap="butt"/>
<path d="M658,393 L663,403" fill="none" stroke="#30e4ec" stroke-width="5.2" stroke-linecap="butt"/>
<ellipse cx="663" cy="403" rx="2.08" ry="2.6" fill="#20b8c0"/>
<path d="M672,372 L681,369" fill="none" stroke="#1a9aa2" stroke-width="6.0" stroke-linecap="butt"/>
<path d="M672,372 L681,369" fill="none" stroke="#30e4ec" stroke-width="5.2" stroke-linecap="butt"/>
<ellipse cx="681" cy="369" rx="2.08" ry="2.6" fill="#20b8c0"/>
<path d="M672.5,380 L681,383" fill="none" stroke="#1a9aa2" stroke-width="6.0" stroke-linecap="butt"/>
<path d="M672.5,380 L681,383" fill="none" stroke="#30e4ec" stroke-width="5.2" stroke-linecap="butt"/>
<ellipse cx="681" cy="383" rx="2.08" ry="2.6" fill="#20b8c0"/>
<path d="M682,385.5 L689,390" fill="none" stroke="#1a9aa2" stroke-width="6.0" stroke-linecap="butt"/>
<path d="M682,385.5 L689,390" fill="none" stroke="#30e4ec" stroke-width="5.2" stroke-linecap="butt"/>
<ellipse cx="689" cy="390" rx="2.08" ry="2.6" fill="#20b8c0"/>
<path d="M676,390 L679.5,401" fill="none" stroke="#1a9aa2" stroke-width="6.0" stroke-linecap="butt"/>
<path d="M676,390 L679.5,401" fill="none" stroke="#30e4ec" stroke-width="5.2" stroke-linecap="butt"/>
<ellipse cx="679.5" cy="401" rx="2.08" ry="2.6" fill="#20b8c0"/>
<path d="M695.5,386 L700.5,391" fill="none" stroke="#1a9aa2" stroke-width="6.0" stroke-linecap="butt"/>
<path d="M695.5,386 L700.5,391" fill="none" stroke="#30e4ec" stroke-width="5.2" stroke-linecap="butt"/>
<ellipse cx="700.5" cy="391" rx="2.08" ry="2.6" fill="#20b8c0"/>
<path d="M660,386 L667,390" fill="none" stroke="#1a9aa2" stroke-width="6.0" stroke-linecap="butt"/>
<path d="M660,386 L667,390" fill="none" stroke="#30e4ec" stroke-width="5.2" stroke-linecap="butt"/>
<ellipse cx="667" cy="390" rx="2.08" ry="2.6" fill="#20b8c0"/>
<ellipse cx="636" cy="392.5" rx="3.8" ry="3.3" fill="#30e4ec" stroke="#1a9aa2" stroke-width="0.7"/>
</svg></body></html>
